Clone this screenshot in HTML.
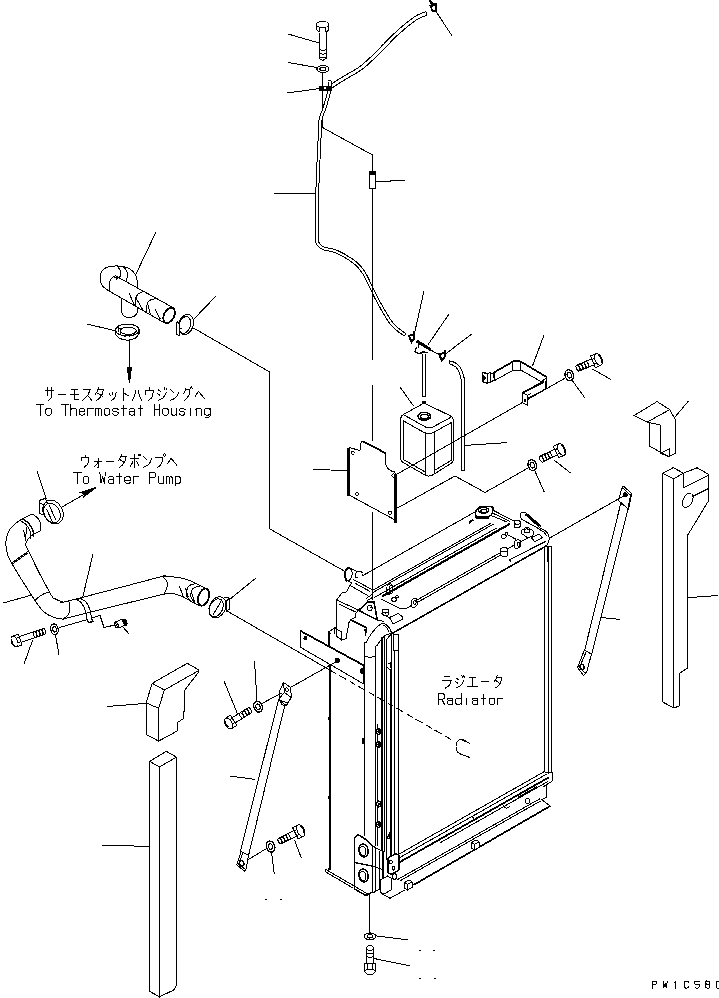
<!DOCTYPE html>
<html><head><meta charset="utf-8"><title>Radiator piping</title>
<style>
html,body{margin:0;padding:0;background:#fff;}
body{width:719px;height:998px;overflow:hidden;font-family:"Liberation Mono",monospace;}
svg{display:block;}
svg text{font-family:"Liberation Mono",monospace;}
</style></head><body>
<svg width="719" height="998" viewBox="0 0 719 998" stroke="#000" fill="none" stroke-width="1" stroke-linecap="butt" stroke-linejoin="miter" shape-rendering="crispEdges">
<rect x="0" y="0" width="719" height="998" fill="#fff" stroke="none"/>
<g transform="translate(322.8 24.5) rotate(90)">
<ellipse cx="0" cy="0" rx="3.1" ry="6.2" fill="#fff"/>
<path d="M0,-6.2 L5.2,-6.2 L8.0,-3.3 M0,6.2 L5.2,6.2 L8.0,3.3 M2.8,-2.8 L8.0,-3.3 M2.8,2.8 L8.0,3.3"/>
<path d="M8.0,-3.3 L34.0,-3.3 L36.0,0 L34.0,3.3 L8.0,3.3"/>
<path d="M32.5,-3.3 Q34.5,0 32.5,3.3"/>
<path d="M28.7,-3.3 Q30.7,0 28.7,3.3"/>
<path d="M24.9,-3.3 Q26.9,0 24.9,3.3"/>
</g>
<path d="M288.0,34.0 L319.0,43.0" stroke-width="1" />
<ellipse cx="323" cy="69" rx="6" ry="3.5" transform="rotate(0 323 69)" stroke-width="1.3" fill="#fff"/>
<ellipse cx="323" cy="69" rx="3.0" ry="1.75" transform="rotate(0 323 69)" stroke-width="1.2" fill="none"/>
<path d="M288.0,62.5 L317.0,67.5" stroke-width="1" />
<path d="M287.0,93.0 L320.0,88.5" stroke-width="1" />
<path d="M322.5,72.0 L322.5,127.5 L372.5,155.0" stroke-width="1" />
<path d="M425.1,12.0 L424.7,12.2 L424.3,12.3 L423.7,12.5 L423.1,12.7 L422.4,12.9 L421.7,13.2 L420.9,13.5 L420.1,13.8 L419.3,14.2 L418.5,14.6 L417.6,15.0 L416.8,15.4 L416.0,15.9 L415.2,16.4 L414.3,17.0 L413.5,17.5 L412.6,18.1 L411.8,18.8 L410.9,19.4 L410.0,20.1 L409.1,20.7 L408.2,21.4 L407.3,22.2 L406.4,22.9 L405.4,23.6 L404.5,24.4 L403.5,25.2 L402.5,26.1 L401.5,26.9 L400.5,27.8 L399.5,28.6 L398.5,29.5 L397.5,30.4 L396.5,31.3 L395.5,32.3 L394.5,33.2 L393.5,34.1 L392.5,35.1 L391.5,36.0 L390.5,37.0 L389.6,38.0 L388.6,39.0 L387.6,40.0 L386.7,41.0 L385.7,42.0 L384.7,43.0 L383.8,44.0 L382.8,44.9 L381.8,45.9 L380.9,46.9 L379.9,47.9 L378.9,48.9 L377.9,49.9 L377.0,50.9 L376.0,51.9 L375.0,52.8 L374.1,53.8 L373.1,54.7 L372.1,55.7 L371.2,56.6 L370.2,57.5 L369.2,58.4 L368.3,59.3 L367.3,60.2 L366.4,61.1 L365.4,61.9 L364.4,62.8 L363.5,63.6 L362.5,64.4 L361.6,65.2 L360.6,65.9 L359.6,66.6 L358.7,67.3 L357.7,68.0 L356.6,68.7 L355.6,69.3 L354.6,69.9 L353.5,70.5 L352.5,71.1 L351.4,71.7 L350.4,72.3 L349.4,72.9 L348.4,73.5 L347.4,74.1 L346.4,74.6 L345.5,75.2 L344.6,75.7 L343.6,76.3 L342.7,76.8 L341.8,77.4 L341.0,77.9 L340.1,78.4 L339.3,78.9 L338.5,79.4 L337.7,79.8 L337.0,80.3 L336.3,80.7 L335.7,81.2 L335.0,81.6 L334.4,82.0 L333.8,82.4 L333.3,82.8 L332.8,83.2 L332.3,83.5 L331.9,83.8 L331.5,84.1 L331.2,84.3 L331.0,84.5 L333.0,87.5 L333.3,87.3 L333.7,87.0 L334.0,86.7 L334.5,86.4 L334.9,86.1 L335.4,85.7 L335.9,85.4 L336.5,85.0 L337.1,84.6 L337.7,84.2 L338.3,83.7 L339.0,83.3 L339.7,82.9 L340.4,82.4 L341.2,82.0 L342.0,81.5 L342.8,81.0 L343.7,80.5 L344.6,79.9 L345.5,79.4 L346.4,78.8 L347.3,78.3 L348.3,77.7 L349.2,77.1 L350.2,76.6 L351.1,76.0 L352.2,75.4 L353.2,74.9 L354.2,74.3 L355.3,73.7 L356.4,73.0 L357.5,72.4 L358.6,71.7 L359.6,71.0 L360.7,70.3 L361.8,69.6 L362.8,68.8 L363.8,68.0 L364.8,67.2 L365.8,66.3 L366.8,65.5 L367.8,64.6 L368.8,63.7 L369.7,62.8 L370.7,61.9 L371.7,61.0 L372.7,60.1 L373.6,59.2 L374.6,58.3 L375.6,57.3 L376.6,56.4 L377.6,55.4 L378.6,54.4 L379.5,53.4 L380.5,52.4 L381.5,51.4 L382.5,50.4 L383.4,49.4 L384.4,48.4 L385.4,47.5 L386.4,46.5 L387.3,45.5 L388.3,44.5 L389.3,43.5 L390.2,42.5 L391.2,41.5 L392.1,40.5 L393.1,39.6 L394.1,38.6 L395.0,37.6 L396.0,36.7 L396.9,35.8 L397.9,34.9 L398.9,34.0 L399.9,33.1 L400.9,32.2 L401.9,31.4 L402.9,30.5 L403.9,29.6 L404.8,28.8 L405.8,28.0 L406.8,27.2 L407.7,26.4 L408.6,25.7 L409.5,25.0 L410.4,24.3 L411.3,23.6 L412.2,22.9 L413.0,22.3 L413.9,21.7 L414.7,21.1 L415.5,20.5 L416.3,20.0 L417.1,19.5 L417.9,19.0 L418.6,18.6 L419.3,18.2 L420.0,17.8 L420.8,17.5 L421.5,17.1 L422.2,16.9 L423.0,16.6 L423.6,16.3 L424.3,16.1 L424.9,15.9 L425.5,15.7 L425.9,15.5 L426.3,15.4 Z" fill="#fff" stroke="none"/>
<path d="M425.1,12.0 L424.7,12.2 L424.3,12.3 L423.7,12.5 L423.1,12.7 L422.4,12.9 L421.7,13.2 L420.9,13.5 L420.1,13.8 L419.3,14.2 L418.5,14.6 L417.6,15.0 L416.8,15.4 L416.0,15.9 L415.2,16.4 L414.3,17.0 L413.5,17.5 L412.6,18.1 L411.8,18.8 L410.9,19.4 L410.0,20.1 L409.1,20.7 L408.2,21.4 L407.3,22.2 L406.4,22.9 L405.4,23.6 L404.5,24.4 L403.5,25.2 L402.5,26.1 L401.5,26.9 L400.5,27.8 L399.5,28.6 L398.5,29.5 L397.5,30.4 L396.5,31.3 L395.5,32.3 L394.5,33.2 L393.5,34.1 L392.5,35.1 L391.5,36.0 L390.5,37.0 L389.6,38.0 L388.6,39.0 L387.6,40.0 L386.7,41.0 L385.7,42.0 L384.7,43.0 L383.8,44.0 L382.8,44.9 L381.8,45.9 L380.9,46.9 L379.9,47.9 L378.9,48.9 L377.9,49.9 L377.0,50.9 L376.0,51.9 L375.0,52.8 L374.1,53.8 L373.1,54.7 L372.1,55.7 L371.2,56.6 L370.2,57.5 L369.2,58.4 L368.3,59.3 L367.3,60.2 L366.4,61.1 L365.4,61.9 L364.4,62.8 L363.5,63.6 L362.5,64.4 L361.6,65.2 L360.6,65.9 L359.6,66.6 L358.7,67.3 L357.7,68.0 L356.6,68.7 L355.6,69.3 L354.6,69.9 L353.5,70.5 L352.5,71.1 L351.4,71.7 L350.4,72.3 L349.4,72.9 L348.4,73.5 L347.4,74.1 L346.4,74.6 L345.5,75.2 L344.6,75.7 L343.6,76.3 L342.7,76.8 L341.8,77.4 L341.0,77.9 L340.1,78.4 L339.3,78.9 L338.5,79.4 L337.7,79.8 L337.0,80.3 L336.3,80.7 L335.7,81.2 L335.0,81.6 L334.4,82.0 L333.8,82.4 L333.3,82.8 L332.8,83.2 L332.3,83.5 L331.9,83.8 L331.5,84.1 L331.2,84.3 L331.0,84.5"/>
<path d="M426.3,15.4 L425.9,15.5 L425.5,15.7 L424.9,15.9 L424.3,16.1 L423.6,16.3 L423.0,16.6 L422.2,16.9 L421.5,17.1 L420.8,17.5 L420.0,17.8 L419.3,18.2 L418.6,18.6 L417.9,19.0 L417.1,19.5 L416.3,20.0 L415.5,20.5 L414.7,21.1 L413.9,21.7 L413.0,22.3 L412.2,22.9 L411.3,23.6 L410.4,24.3 L409.5,25.0 L408.6,25.7 L407.7,26.4 L406.8,27.2 L405.8,28.0 L404.8,28.8 L403.9,29.6 L402.9,30.5 L401.9,31.4 L400.9,32.2 L399.9,33.1 L398.9,34.0 L397.9,34.9 L396.9,35.8 L396.0,36.7 L395.0,37.6 L394.1,38.6 L393.1,39.6 L392.1,40.5 L391.2,41.5 L390.2,42.5 L389.3,43.5 L388.3,44.5 L387.3,45.5 L386.4,46.5 L385.4,47.5 L384.4,48.4 L383.4,49.4 L382.5,50.4 L381.5,51.4 L380.5,52.4 L379.5,53.4 L378.6,54.4 L377.6,55.4 L376.6,56.4 L375.6,57.3 L374.6,58.3 L373.6,59.2 L372.7,60.1 L371.7,61.0 L370.7,61.9 L369.7,62.8 L368.8,63.7 L367.8,64.6 L366.8,65.5 L365.8,66.3 L364.8,67.2 L363.8,68.0 L362.8,68.8 L361.8,69.6 L360.7,70.3 L359.6,71.0 L358.6,71.7 L357.5,72.4 L356.4,73.0 L355.3,73.7 L354.2,74.3 L353.2,74.9 L352.2,75.4 L351.1,76.0 L350.2,76.6 L349.2,77.1 L348.3,77.7 L347.3,78.3 L346.4,78.8 L345.5,79.4 L344.6,79.9 L343.7,80.5 L342.8,81.0 L342.0,81.5 L341.2,82.0 L340.4,82.4 L339.7,82.9 L339.0,83.3 L338.3,83.7 L337.7,84.2 L337.1,84.6 L336.5,85.0 L335.9,85.4 L335.4,85.7 L334.9,86.1 L334.5,86.4 L334.0,86.7 L333.7,87.0 L333.3,87.3 L333.0,87.5"/>
<path d="M425.1,12.0 C426.4,11.5 427.7,14.9 426.3,15.4"/>
<path d="M331.0,84.5 C329.8,85.4 331.9,88.3 333.0,87.5"/>
<path d="M328.4,81.5 L328.4,81.9 L328.4,82.4 L328.4,82.9 L328.4,83.4 L328.5,84.0 L328.5,84.7 L328.5,85.4 L328.5,86.1 L328.5,86.9 L328.4,87.8 L328.3,88.7 L328.1,89.7 L327.8,90.9 L327.5,92.2 L327.2,93.6 L326.7,95.1 L326.3,96.7 L325.8,98.4 L325.4,100.0 L324.9,101.7 L324.4,103.3 L323.9,104.8 L323.5,106.3 L323.1,107.6 L322.7,108.7 L322.4,109.7 L322.0,110.7 L321.6,111.6 L321.3,112.5 L320.9,113.3 L320.6,114.2 L320.2,115.2 L319.9,116.2 L319.6,117.3 L319.3,118.5 L319.1,119.8 L318.9,121.1 L318.7,122.4 L318.6,123.6 L318.5,124.8 L318.5,126.1 L318.4,127.5 L318.4,129.0 L318.4,130.6 L318.3,132.5 L318.3,134.7 L318.2,137.1 L318.1,139.9 L317.9,143.2 L317.7,146.8 L317.5,150.9 L317.3,155.2 L317.1,159.7 L316.9,164.4 L316.7,169.2 L316.5,174.0 L316.3,178.8 L316.1,183.4 L316.0,187.8 L315.9,192.0 L315.8,196.0 L315.7,200.2 L315.7,204.4 L315.6,208.6 L315.6,212.8 L315.6,216.8 L315.6,220.7 L315.7,224.4 L315.7,227.8 L315.7,230.9 L315.7,233.7 L315.8,236.0 L315.7,237.9 L315.7,239.3 L315.7,240.3 L315.7,241.1 L315.6,241.5 L315.6,241.9 L315.6,242.2 L315.8,242.9 L316.0,243.2 L316.1,243.2 L316.1,243.3 L316.3,243.7 L316.6,244.2 L316.9,244.7 L317.2,245.3 L317.6,245.8 L318.0,246.3 L318.5,246.8 L319.0,247.2 L319.6,247.7 L320.2,248.1 L320.9,248.5 L321.6,248.9 L322.4,249.3 L323.3,249.7 L324.3,250.0 L325.4,250.3 L326.5,250.6 L327.6,250.8 L328.7,251.0 L329.9,251.3 L331.1,251.5 L332.2,251.8 L333.3,252.1 L334.4,252.5 L335.5,252.8 L336.5,253.3 L337.6,253.8 L338.7,254.3 L339.8,254.9 L340.9,255.4 L342.1,256.1 L343.2,256.7 L344.2,257.3 L345.3,257.9 L346.3,258.5 L347.3,259.1 L348.2,259.7 L349.1,260.3 L350.0,260.9 L350.8,261.4 L351.5,262.0 L352.3,262.5 L353.0,263.1 L353.7,263.6 L354.4,264.2 L355.1,264.7 L355.7,265.3 L356.3,265.9 L357.0,266.5 L357.6,267.1 L358.2,267.8 L358.7,268.4 L359.3,269.1 L359.8,269.7 L360.3,270.4 L360.8,271.1 L361.3,271.8 L361.8,272.5 L362.3,273.2 L362.8,274.0 L363.3,274.8 L363.7,275.5 L364.2,276.3 L364.6,277.2 L365.0,278.0 L365.5,278.8 L365.9,279.7 L366.3,280.6 L366.7,281.6 L367.2,282.5 L367.7,283.5 L368.2,284.6 L368.7,285.6 L369.2,286.7 L369.8,287.9 L370.4,289.0 L371.0,290.2 L371.6,291.5 L372.2,292.7 L372.8,294.0 L373.4,295.3 L374.1,296.6 L374.8,298.0 L375.5,299.3 L376.2,300.7 L377.0,302.1 L377.8,303.6 L378.6,305.1 L379.5,306.6 L380.4,308.2 L381.2,309.8 L382.1,311.4 L383.0,312.9 L383.9,314.4 L384.7,315.8 L385.5,317.1 L386.3,318.3 L387.0,319.4 L387.7,320.4 L388.3,321.3 L388.9,322.2 L389.5,323.0 L390.1,323.8 L390.7,324.5 L391.3,325.2 L392.0,325.9 L392.6,326.6 L393.3,327.3 L394.0,328.0 L394.8,328.8 L395.6,329.5 L396.5,330.3 L397.5,331.1 L398.4,331.8 L399.3,332.5 L400.3,333.2 L401.1,333.8 L401.9,334.4 L402.6,334.9 L403.2,335.3 L403.6,335.7 L405.4,333.3 L404.9,333.0 L404.3,332.5 L403.6,332.0 L402.8,331.5 L402.0,330.8 L401.1,330.2 L400.2,329.5 L399.3,328.8 L398.4,328.1 L397.5,327.4 L396.7,326.7 L396.0,326.0 L395.4,325.3 L394.7,324.6 L394.1,324.0 L393.5,323.3 L393.0,322.7 L392.4,322.0 L391.9,321.3 L391.3,320.5 L390.7,319.7 L390.1,318.8 L389.4,317.8 L388.7,316.7 L388.0,315.5 L387.2,314.3 L386.4,312.9 L385.5,311.4 L384.6,309.9 L383.8,308.4 L382.9,306.8 L382.0,305.2 L381.2,303.7 L380.3,302.2 L379.5,300.7 L378.8,299.3 L378.1,298.0 L377.4,296.6 L376.7,295.3 L376.0,294.0 L375.4,292.7 L374.8,291.5 L374.2,290.2 L373.6,289.0 L373.0,287.8 L372.4,286.6 L371.8,285.5 L371.3,284.4 L370.8,283.3 L370.3,282.3 L369.8,281.3 L369.4,280.3 L368.9,279.4 L368.5,278.5 L368.1,277.6 L367.6,276.7 L367.2,275.8 L366.7,274.9 L366.2,274.1 L365.7,273.2 L365.2,272.4 L364.7,271.6 L364.2,270.9 L363.7,270.1 L363.2,269.4 L362.6,268.6 L362.1,267.9 L361.5,267.2 L360.9,266.5 L360.3,265.8 L359.7,265.1 L359.0,264.5 L358.4,263.8 L357.7,263.2 L357.0,262.6 L356.3,261.9 L355.5,261.3 L354.8,260.8 L354.0,260.2 L353.2,259.6 L352.4,259.0 L351.6,258.4 L350.7,257.9 L349.8,257.3 L348.8,256.7 L347.8,256.1 L346.8,255.4 L345.7,254.8 L344.6,254.1 L343.4,253.5 L342.3,252.9 L341.1,252.3 L340.0,251.7 L338.8,251.1 L337.7,250.6 L336.5,250.2 L335.4,249.7 L334.2,249.3 L332.9,249.0 L331.7,248.7 L330.5,248.5 L329.3,248.2 L328.2,248.0 L327.1,247.7 L326.1,247.5 L325.1,247.2 L324.3,247.0 L323.6,246.7 L322.9,246.4 L322.3,246.0 L321.8,245.7 L321.3,245.4 L320.9,245.0 L320.5,244.7 L320.2,244.3 L319.9,244.0 L319.6,243.6 L319.4,243.2 L319.1,242.8 L318.9,242.3 L318.6,241.9 L318.4,241.5 L318.2,241.3 L318.4,241.5 L318.5,242.0 L318.5,242.0 L318.5,241.7 L318.6,241.2 L318.6,240.5 L318.6,239.4 L318.6,237.9 L318.6,236.0 L318.6,233.6 L318.6,230.9 L318.6,227.8 L318.6,224.4 L318.5,220.7 L318.5,216.8 L318.5,212.8 L318.5,208.6 L318.6,204.4 L318.6,200.2 L318.7,196.1 L318.7,192.0 L318.9,187.9 L319.0,183.5 L319.2,178.9 L319.4,174.1 L319.6,169.3 L319.8,164.6 L320.0,159.9 L320.2,155.3 L320.4,151.0 L320.6,147.0 L320.8,143.3 L320.9,140.1 L321.1,137.2 L321.2,134.8 L321.2,132.6 L321.3,130.7 L321.3,129.0 L321.3,127.5 L321.4,126.2 L321.4,125.0 L321.5,123.8 L321.6,122.6 L321.8,121.5 L321.9,120.2 L322.1,119.0 L322.4,118.0 L322.7,117.0 L322.9,116.1 L323.3,115.3 L323.6,114.4 L323.9,113.6 L324.3,112.7 L324.7,111.8 L325.1,110.8 L325.5,109.6 L325.9,108.4 L326.3,107.1 L326.7,105.7 L327.2,104.1 L327.7,102.5 L328.1,100.8 L328.6,99.2 L329.1,97.5 L329.5,95.9 L330.0,94.3 L330.3,92.9 L330.7,91.5 L330.9,90.3 L331.1,89.2 L331.3,88.1 L331.4,87.1 L331.4,86.2 L331.4,85.4 L331.4,84.6 L331.4,83.9 L331.3,83.3 L331.3,82.7 L331.3,82.2 L331.2,81.8 L331.2,81.5 Z" fill="#fff" stroke="none"/>
<path d="M328.4,81.5 L328.4,81.9 L328.4,82.4 L328.4,82.9 L328.4,83.4 L328.5,84.0 L328.5,84.7 L328.5,85.4 L328.5,86.1 L328.5,86.9 L328.4,87.8 L328.3,88.7 L328.1,89.7 L327.8,90.9 L327.5,92.2 L327.2,93.6 L326.7,95.1 L326.3,96.7 L325.8,98.4 L325.4,100.0 L324.9,101.7 L324.4,103.3 L323.9,104.8 L323.5,106.3 L323.1,107.6 L322.7,108.7 L322.4,109.7 L322.0,110.7 L321.6,111.6 L321.3,112.5 L320.9,113.3 L320.6,114.2 L320.2,115.2 L319.9,116.2 L319.6,117.3 L319.3,118.5 L319.1,119.8 L318.9,121.1 L318.7,122.4 L318.6,123.6 L318.5,124.8 L318.5,126.1 L318.4,127.5 L318.4,129.0 L318.4,130.6 L318.3,132.5 L318.3,134.7 L318.2,137.1 L318.1,139.9 L317.9,143.2 L317.7,146.8 L317.5,150.9 L317.3,155.2 L317.1,159.7 L316.9,164.4 L316.7,169.2 L316.5,174.0 L316.3,178.8 L316.1,183.4 L316.0,187.8 L315.9,192.0 L315.8,196.0 L315.7,200.2 L315.7,204.4 L315.6,208.6 L315.6,212.8 L315.6,216.8 L315.6,220.7 L315.7,224.4 L315.7,227.8 L315.7,230.9 L315.7,233.7 L315.8,236.0 L315.7,237.9 L315.7,239.3 L315.7,240.3 L315.7,241.1 L315.6,241.5 L315.6,241.9 L315.6,242.2 L315.8,242.9 L316.0,243.2 L316.1,243.2 L316.1,243.3 L316.3,243.7 L316.6,244.2 L316.9,244.7 L317.2,245.3 L317.6,245.8 L318.0,246.3 L318.5,246.8 L319.0,247.2 L319.6,247.7 L320.2,248.1 L320.9,248.5 L321.6,248.9 L322.4,249.3 L323.3,249.7 L324.3,250.0 L325.4,250.3 L326.5,250.6 L327.6,250.8 L328.7,251.0 L329.9,251.3 L331.1,251.5 L332.2,251.8 L333.3,252.1 L334.4,252.5 L335.5,252.8 L336.5,253.3 L337.6,253.8 L338.7,254.3 L339.8,254.9 L340.9,255.4 L342.1,256.1 L343.2,256.7 L344.2,257.3 L345.3,257.9 L346.3,258.5 L347.3,259.1 L348.2,259.7 L349.1,260.3 L350.0,260.9 L350.8,261.4 L351.5,262.0 L352.3,262.5 L353.0,263.1 L353.7,263.6 L354.4,264.2 L355.1,264.7 L355.7,265.3 L356.3,265.9 L357.0,266.5 L357.6,267.1 L358.2,267.8 L358.7,268.4 L359.3,269.1 L359.8,269.7 L360.3,270.4 L360.8,271.1 L361.3,271.8 L361.8,272.5 L362.3,273.2 L362.8,274.0 L363.3,274.8 L363.7,275.5 L364.2,276.3 L364.6,277.2 L365.0,278.0 L365.5,278.8 L365.9,279.7 L366.3,280.6 L366.7,281.6 L367.2,282.5 L367.7,283.5 L368.2,284.6 L368.7,285.6 L369.2,286.7 L369.8,287.9 L370.4,289.0 L371.0,290.2 L371.6,291.5 L372.2,292.7 L372.8,294.0 L373.4,295.3 L374.1,296.6 L374.8,298.0 L375.5,299.3 L376.2,300.7 L377.0,302.1 L377.8,303.6 L378.6,305.1 L379.5,306.6 L380.4,308.2 L381.2,309.8 L382.1,311.4 L383.0,312.9 L383.9,314.4 L384.7,315.8 L385.5,317.1 L386.3,318.3 L387.0,319.4 L387.7,320.4 L388.3,321.3 L388.9,322.2 L389.5,323.0 L390.1,323.8 L390.7,324.5 L391.3,325.2 L392.0,325.9 L392.6,326.6 L393.3,327.3 L394.0,328.0 L394.8,328.8 L395.6,329.5 L396.5,330.3 L397.5,331.1 L398.4,331.8 L399.3,332.5 L400.3,333.2 L401.1,333.8 L401.9,334.4 L402.6,334.9 L403.2,335.3 L403.6,335.7"/>
<path d="M331.2,81.5 L331.2,81.8 L331.3,82.2 L331.3,82.7 L331.3,83.3 L331.4,83.9 L331.4,84.6 L331.4,85.4 L331.4,86.2 L331.4,87.1 L331.3,88.1 L331.1,89.2 L330.9,90.3 L330.7,91.5 L330.3,92.9 L330.0,94.3 L329.5,95.9 L329.1,97.5 L328.6,99.2 L328.1,100.8 L327.7,102.5 L327.2,104.1 L326.7,105.7 L326.3,107.1 L325.9,108.4 L325.5,109.6 L325.1,110.8 L324.7,111.8 L324.3,112.7 L323.9,113.6 L323.6,114.4 L323.3,115.3 L322.9,116.1 L322.7,117.0 L322.4,118.0 L322.1,119.0 L321.9,120.2 L321.8,121.5 L321.6,122.6 L321.5,123.8 L321.4,125.0 L321.4,126.2 L321.3,127.5 L321.3,129.0 L321.3,130.7 L321.2,132.6 L321.2,134.8 L321.1,137.2 L320.9,140.1 L320.8,143.3 L320.6,147.0 L320.4,151.0 L320.2,155.3 L320.0,159.9 L319.8,164.6 L319.6,169.3 L319.4,174.1 L319.2,178.9 L319.0,183.5 L318.9,187.9 L318.7,192.0 L318.7,196.1 L318.6,200.2 L318.6,204.4 L318.5,208.6 L318.5,212.8 L318.5,216.8 L318.5,220.7 L318.6,224.4 L318.6,227.8 L318.6,230.9 L318.6,233.6 L318.6,236.0 L318.6,237.9 L318.6,239.4 L318.6,240.5 L318.6,241.2 L318.5,241.7 L318.5,242.0 L318.5,242.0 L318.4,241.5 L318.2,241.3 L318.4,241.5 L318.6,241.9 L318.9,242.3 L319.1,242.8 L319.4,243.2 L319.6,243.6 L319.9,244.0 L320.2,244.3 L320.5,244.7 L320.9,245.0 L321.3,245.4 L321.8,245.7 L322.3,246.0 L322.9,246.4 L323.6,246.7 L324.3,247.0 L325.1,247.2 L326.1,247.5 L327.1,247.7 L328.2,248.0 L329.3,248.2 L330.5,248.5 L331.7,248.7 L332.9,249.0 L334.2,249.3 L335.4,249.7 L336.5,250.2 L337.7,250.6 L338.8,251.1 L340.0,251.7 L341.1,252.3 L342.3,252.9 L343.4,253.5 L344.6,254.1 L345.7,254.8 L346.8,255.4 L347.8,256.1 L348.8,256.7 L349.8,257.3 L350.7,257.9 L351.6,258.4 L352.4,259.0 L353.2,259.6 L354.0,260.2 L354.8,260.8 L355.5,261.3 L356.3,261.9 L357.0,262.6 L357.7,263.2 L358.4,263.8 L359.0,264.5 L359.7,265.1 L360.3,265.8 L360.9,266.5 L361.5,267.2 L362.1,267.9 L362.6,268.6 L363.2,269.4 L363.7,270.1 L364.2,270.9 L364.7,271.6 L365.2,272.4 L365.7,273.2 L366.2,274.1 L366.7,274.9 L367.2,275.8 L367.6,276.7 L368.1,277.6 L368.5,278.5 L368.9,279.4 L369.4,280.3 L369.8,281.3 L370.3,282.3 L370.8,283.3 L371.3,284.4 L371.8,285.5 L372.4,286.6 L373.0,287.8 L373.6,289.0 L374.2,290.2 L374.8,291.5 L375.4,292.7 L376.0,294.0 L376.7,295.3 L377.4,296.6 L378.1,298.0 L378.8,299.3 L379.5,300.7 L380.3,302.2 L381.2,303.7 L382.0,305.2 L382.9,306.8 L383.8,308.4 L384.6,309.9 L385.5,311.4 L386.4,312.9 L387.2,314.3 L388.0,315.5 L388.7,316.7 L389.4,317.8 L390.1,318.8 L390.7,319.7 L391.3,320.5 L391.9,321.3 L392.4,322.0 L393.0,322.7 L393.5,323.3 L394.1,324.0 L394.7,324.6 L395.4,325.3 L396.0,326.0 L396.7,326.7 L397.5,327.4 L398.4,328.1 L399.3,328.8 L400.2,329.5 L401.1,330.2 L402.0,330.8 L402.8,331.5 L403.6,332.0 L404.3,332.5 L404.9,333.0 L405.4,333.3"/>
<path d="M328.4,81.5 C328.3,80.3 331.2,80.3 331.2,81.5"/>
<path d="M403.6,335.7 C404.5,336.4 406.3,334.1 405.4,333.3"/>
<rect x="319.5" y="86.2" width="11.8" height="4" fill="#000"/>
<rect x="323.5" y="87.4" width="2.5" height="1.6" fill="#fff" stroke="none"/>
<path d="M274.0,194.0 L315.5,193.7" stroke-width="1" />
<path d="M372.5,155.0 L372.5,171.0" stroke-width="1" />
<rect x="369.5" y="171.5" width="6" height="16.5" fill="#fff"/>
<rect x="369.5" y="171.5" width="6" height="2.6" fill="#000"/>
<path d="M375.5,181.3 L390.0,181.3 L390.0,180.5 L404.7,180.5" stroke-width="1" />
<path d="M372.5,188.0 L372.5,360.0" stroke-width="1" />
<path d="M372.5,385.0 L372.5,441.0" stroke-width="1" />
<path d="M372.5,512.0 L372.5,600.0" stroke-width="1" />
<path d="M436.3,2.5 L436.3,11.5 L432.6,11 L430.4,6 L436.3,5" stroke-width="1.8" />
<path d="M429.8,0.3 L431.8,3.5 L434.5,4.6" stroke-width="2.4" />
<path d="M436.0,11.5 L452.5,36.5" stroke-width="1" />
<path d="M414.4,331.1 L414.4,338.6 L411.6,341.9 L409.0,335.7 L414.4,334.3" stroke-width="2" />
<path d="M424.0,291.0 L415.0,331.0" stroke-width="1" />
<path d="M444.5,349.6 L444.5,357.1 L441.7,360.4 L439.1,354.2 L444.5,352.8" stroke-width="2" />
<path d="M471.7,334.0 L445.5,354.0" stroke-width="1" />
<path d="M416.7,341.0 L430.5,349.6" stroke-width="3" />
<path d="M416.5,347.5 L415,351.5 L418,353.5 L422,353 M421.5,351.8 L427.5,352.6" stroke-width="1.4" />
<path d="M419.0,343.5 L418.2,348.2" stroke-width="1" />
<path d="M449.0,314.0 L427.8,345.0" stroke-width="1" />
<path d="M430.5,350.0 L439.0,354.5" stroke-width="1" />
<path d="M422.2,353.5 V396.7 H425.6 V353.5" fill="#fff"/>
<path d="M449.1,363.4 L449.3,363.5 L449.5,363.6 L449.8,363.8 L450.1,363.9 L450.4,364.1 L450.7,364.2 L451.1,364.4 L451.4,364.5 L451.8,364.7 L452.1,364.9 L452.4,365.0 L452.7,365.2 L453.0,365.4 L453.4,365.5 L453.7,365.7 L454.0,365.9 L454.2,366.0 L454.5,366.2 L454.8,366.3 L455.0,366.5 L455.3,366.6 L455.5,366.8 L455.7,367.0 L455.9,367.1 L456.1,367.3 L456.3,367.6 L456.5,367.8 L456.7,368.1 L456.9,368.3 L457.1,368.6 L457.3,368.9 L457.4,369.2 L457.6,369.6 L457.8,369.9 L458.0,370.2 L458.2,370.5 L458.4,370.9 L458.5,371.2 L458.7,371.6 L458.8,371.9 L459.0,372.3 L459.1,372.6 L459.3,373.0 L459.4,373.4 L459.6,373.8 L459.7,374.2 L459.8,374.6 L460.0,375.0 L460.1,375.4 L460.2,375.8 L460.4,376.2 L460.5,376.6 L460.6,377.0 L460.7,377.3 L460.8,377.7 L460.9,378.1 L461.0,378.6 L461.1,379.0 L461.1,379.6 L461.2,380.1 L461.3,380.7 L461.3,381.3 L461.3,381.8 L461.3,382.3 L461.3,382.8 L461.3,383.5 L461.3,384.2 L461.3,385.0 L461.3,386.0 L461.3,387.1 L461.3,388.5 L461.3,390.0 L461.3,391.7 L461.3,393.6 L461.3,395.6 L461.3,397.8 L461.3,400.0 L461.3,402.5 L461.3,405.0 L461.3,407.7 L461.3,410.6 L461.3,413.6 L461.3,416.7 L461.3,420.0 L461.3,423.7 L461.3,427.8 L461.3,432.4 L461.3,437.2 L461.3,442.1 L461.3,447.1 L461.3,452.0 L461.3,456.6 L461.3,460.9 L461.3,464.8 L461.3,468.0 L461.3,470.5 L464.5,470.5 L464.5,468.0 L464.5,464.8 L464.5,460.9 L464.5,456.6 L464.5,452.0 L464.5,447.1 L464.5,442.1 L464.5,437.2 L464.5,432.4 L464.5,427.8 L464.5,423.7 L464.5,420.0 L464.5,416.7 L464.5,413.6 L464.5,410.6 L464.5,407.7 L464.5,405.0 L464.5,402.5 L464.5,400.0 L464.5,397.8 L464.5,395.6 L464.5,393.6 L464.5,391.7 L464.5,390.0 L464.5,388.5 L464.5,387.1 L464.5,386.0 L464.5,385.0 L464.5,384.2 L464.5,383.5 L464.5,382.8 L464.5,382.2 L464.5,381.7 L464.5,381.1 L464.4,380.5 L464.4,379.9 L464.3,379.2 L464.2,378.6 L464.1,378.0 L464.0,377.5 L463.9,377.0 L463.8,376.5 L463.7,376.1 L463.5,375.6 L463.4,375.2 L463.3,374.8 L463.2,374.4 L463.0,374.0 L462.9,373.6 L462.7,373.1 L462.6,372.7 L462.4,372.3 L462.3,371.9 L462.1,371.4 L461.9,371.0 L461.8,370.6 L461.6,370.2 L461.4,369.8 L461.2,369.4 L461.0,369.1 L460.8,368.7 L460.6,368.3 L460.4,367.9 L460.2,367.6 L460.0,367.2 L459.7,366.9 L459.5,366.5 L459.2,366.2 L459.0,365.8 L458.7,365.5 L458.4,365.2 L458.1,364.9 L457.8,364.6 L457.5,364.3 L457.1,364.0 L456.8,363.8 L456.4,363.6 L456.1,363.4 L455.8,363.2 L455.5,363.0 L455.2,362.9 L454.9,362.7 L454.6,362.6 L454.3,362.4 L453.9,362.2 L453.6,362.0 L453.2,361.8 L452.8,361.7 L452.5,361.5 L452.1,361.3 L451.8,361.2 L451.4,361.0 L451.1,360.9 L450.9,360.7 L450.7,360.6 L450.5,360.6 Z" fill="#fff" stroke="none"/>
<path d="M449.1,363.4 L449.3,363.5 L449.5,363.6 L449.8,363.8 L450.1,363.9 L450.4,364.1 L450.7,364.2 L451.1,364.4 L451.4,364.5 L451.8,364.7 L452.1,364.9 L452.4,365.0 L452.7,365.2 L453.0,365.4 L453.4,365.5 L453.7,365.7 L454.0,365.9 L454.2,366.0 L454.5,366.2 L454.8,366.3 L455.0,366.5 L455.3,366.6 L455.5,366.8 L455.7,367.0 L455.9,367.1 L456.1,367.3 L456.3,367.6 L456.5,367.8 L456.7,368.1 L456.9,368.3 L457.1,368.6 L457.3,368.9 L457.4,369.2 L457.6,369.6 L457.8,369.9 L458.0,370.2 L458.2,370.5 L458.4,370.9 L458.5,371.2 L458.7,371.6 L458.8,371.9 L459.0,372.3 L459.1,372.6 L459.3,373.0 L459.4,373.4 L459.6,373.8 L459.7,374.2 L459.8,374.6 L460.0,375.0 L460.1,375.4 L460.2,375.8 L460.4,376.2 L460.5,376.6 L460.6,377.0 L460.7,377.3 L460.8,377.7 L460.9,378.1 L461.0,378.6 L461.1,379.0 L461.1,379.6 L461.2,380.1 L461.3,380.7 L461.3,381.3 L461.3,381.8 L461.3,382.3 L461.3,382.8 L461.3,383.5 L461.3,384.2 L461.3,385.0 L461.3,386.0 L461.3,387.1 L461.3,388.5 L461.3,390.0 L461.3,391.7 L461.3,393.6 L461.3,395.6 L461.3,397.8 L461.3,400.0 L461.3,402.5 L461.3,405.0 L461.3,407.7 L461.3,410.6 L461.3,413.6 L461.3,416.7 L461.3,420.0 L461.3,423.7 L461.3,427.8 L461.3,432.4 L461.3,437.2 L461.3,442.1 L461.3,447.1 L461.3,452.0 L461.3,456.6 L461.3,460.9 L461.3,464.8 L461.3,468.0 L461.3,470.5"/>
<path d="M450.5,360.6 L450.7,360.6 L450.9,360.7 L451.1,360.9 L451.4,361.0 L451.8,361.2 L452.1,361.3 L452.5,361.5 L452.8,361.7 L453.2,361.8 L453.6,362.0 L453.9,362.2 L454.3,362.4 L454.6,362.6 L454.9,362.7 L455.2,362.9 L455.5,363.0 L455.8,363.2 L456.1,363.4 L456.4,363.6 L456.8,363.8 L457.1,364.0 L457.5,364.3 L457.8,364.6 L458.1,364.9 L458.4,365.2 L458.7,365.5 L459.0,365.8 L459.2,366.2 L459.5,366.5 L459.7,366.9 L460.0,367.2 L460.2,367.6 L460.4,367.9 L460.6,368.3 L460.8,368.7 L461.0,369.1 L461.2,369.4 L461.4,369.8 L461.6,370.2 L461.8,370.6 L461.9,371.0 L462.1,371.4 L462.3,371.9 L462.4,372.3 L462.6,372.7 L462.7,373.1 L462.9,373.6 L463.0,374.0 L463.2,374.4 L463.3,374.8 L463.4,375.2 L463.5,375.6 L463.7,376.1 L463.8,376.5 L463.9,377.0 L464.0,377.5 L464.1,378.0 L464.2,378.6 L464.3,379.2 L464.4,379.9 L464.4,380.5 L464.5,381.1 L464.5,381.7 L464.5,382.2 L464.5,382.8 L464.5,383.5 L464.5,384.2 L464.5,385.0 L464.5,386.0 L464.5,387.1 L464.5,388.5 L464.5,390.0 L464.5,391.7 L464.5,393.6 L464.5,395.6 L464.5,397.8 L464.5,400.0 L464.5,402.5 L464.5,405.0 L464.5,407.7 L464.5,410.6 L464.5,413.6 L464.5,416.7 L464.5,420.0 L464.5,423.7 L464.5,427.8 L464.5,432.4 L464.5,437.2 L464.5,442.1 L464.5,447.1 L464.5,452.0 L464.5,456.6 L464.5,460.9 L464.5,464.8 L464.5,468.0 L464.5,470.5"/>
<path d="M449.1,363.4 L450.5,360.6"/>
<path d="M461.3,470.5 L464.5,470.5"/>
<path d="M461.2,470.6 L464.8,470.6" stroke-width="1" />
<path d="M449.4,360.2 L449.6,364.0" stroke-width="1" />
<path d="M465.0,445.4 L507.0,442.6" stroke-width="1" />
<path d="M349,447.5 L360,450.5 L361.2,442 L362.3,441 L385.3,453 L386,465 Q387.5,470.5 394.5,472 L396,474 L396,520.5 L349,495 Z" stroke-width="1" fill="#fff"/>
<path d="M348.3,447.5 L348.3,495.5" stroke-width="2.2" />
<path d="M362.3,441.0 L385.3,453.0" stroke-width="1.8" />
<path d="M395.9,473.5 L395.9,522.5" stroke-width="3" />
<ellipse cx="352.8" cy="452.8" rx="1.4" ry="1.7" transform="rotate(0 352.8 452.8)" stroke-width="1" fill="none"/>
<ellipse cx="357" cy="494" rx="1.4" ry="1.7" transform="rotate(0 357 494)" stroke-width="1" fill="none"/>
<ellipse cx="390" cy="512.6" rx="1.4" ry="1.7" transform="rotate(0 390 512.6)" stroke-width="1" fill="none"/>
<ellipse cx="393.2" cy="475.5" rx="1.4" ry="1.7" transform="rotate(0 393.2 475.5)" stroke-width="1" fill="none"/>
<path d="M313.0,469.5 L347.3,470.5" stroke-width="1" />
<path d="M424.1,403 L450.3,415.8 Q453.5,417.4 453.5,421 L453.7,458.5 Q453.7,461.8 451,463.4 L433.5,474.5 Q429,477.6 424.5,474.8 L403.3,462.6 Q400.6,461 400.6,457.8 L400.6,419.5 Q400.6,416 403.6,414.4 Z" stroke-width="1" fill="#fff"/>
<path d="M402.6,420.4 L423.5,432.2 Q429.5,435 435,431.6 L452.3,422" stroke-width="1" />
<path d="M404.6,415.3 L426,427.3 Q429.5,428.8 433,427 L451,417.2" stroke-width="1" />
<path d="M425.0,433.2 L425.0,474.8" stroke-width="1" />
<path d="M434.0,432.3 L434.0,474.0" stroke-width="1" />
<path d="M403.4,421.0 L403.4,459.5" stroke-width="1" />
<path d="M403.4,459.5 L425.0,471.8" stroke-width="1" />
<path d="M434.0,470.8 L452.0,459.8" stroke-width="1" />
<path d="M451.6,422.5 L451.6,459.5" stroke-width="1" />
<ellipse cx="424.2" cy="416.2" rx="6.2" ry="3.9" transform="rotate(0 424.2 416.2)" stroke-width="1.4" fill="none"/>
<ellipse cx="424.4" cy="416.6" rx="3.8" ry="2.3" transform="rotate(0 424.4 416.6)" stroke-width="1.3" fill="none"/>
<path d="M418,416.2 V418 Q424.2,423.2 430.4,418 V416.2" stroke-width="1" />
<rect x="422.3" y="401.4" width="3.8" height="2" fill="#000" stroke="none"/>
<path d="M400.0,387.0 L413.5,406.0" stroke-width="1" />
<path d="M395.8,474.8 L566.0,377.6" stroke-width="1" />
<path d="M397.5,508.0 L455.0,476.0 L485.0,492.5 L529.0,467.5" stroke-width="1" />
<path d="M482.2,372.2 L487.2,373.6 L487.2,383.2 L482.2,381.6 Z" stroke-width="1.3" fill="#fff"/>
<path d="M487.2,373.6 L490.2,372.6 L490.2,382.2 L487.2,383.2 Z" stroke-width="1" fill="#fff"/>
<path d="M484,376 L485.6,377.6 L484,379.2 Z" stroke-width="1.2" fill="#000"/>
<path d="M490.2,374.0 L493.3,373.0" stroke-width="1" />
<path d="M490.2,381.5 L494.4,380.6" stroke-width="1" />
<path d="M493.3,372.8 L512.8,361.7 L512.4,370.6 L494.4,380.6 Z" stroke-width="1" fill="#fff"/>
<path d="M493.3,372.8 L512.8,361.7" stroke-width="1.7" />
<path d="M494.6,373.0 L494.6,380.4" stroke-width="1" />
<path d="M512.8,361.7 Q516.7,359.6 521,361.7 L520.8,370 L512.4,370.6 Z" stroke-width="1" fill="#fff"/>
<path d="M512.8,361.7 Q516.7,359.6 521,361.7" stroke-width="1.7" />
<path d="M521.0,361.7 L546.7,377.2 L541.7,381.9 L520.8,370.0 Z" stroke-width="1" fill="#fff"/>
<path d="M521.0,361.7 L546.7,377.2" stroke-width="1.7" />
<path d="M541.7,381.9 L546.7,377.2 L546.7,388.4 L527.6,398.4 L527.6,405.2 L522.5,402.9 L522.5,392.8 Z" stroke-width="1" fill="#fff"/>
<path d="M543.9,382.2 L522.6,392.8" stroke-width="1.7" />
<path d="M545.2,380.5 L545.2,388.9" stroke-width="1" />
<path d="M522.5,392.8 L527.6,395.2 L527.6,398.4" stroke-width="1" />
<path d="M527.6,395.2 L531.0,393.4" stroke-width="1" />
<ellipse cx="525" cy="400.4" rx="0.9" ry="1.6" transform="rotate(0 525 400.4)" stroke-width="1" fill="#000"/>
<path d="M544.0,335.0 L532.5,366.0" stroke-width="1" />
<ellipse cx="569.3" cy="375.3" rx="4.2" ry="5.6" transform="rotate(-20 569.3 375.3)" stroke-width="1.3" fill="#fff"/>
<ellipse cx="569.3" cy="375.3" rx="2.1" ry="2.8" transform="rotate(-20 569.3 375.3)" stroke-width="1.2" fill="none"/>
<path d="M571.5,379.5 L585.0,398.0" stroke-width="1" />
<g transform="translate(598.5 359.5) rotate(157.3)">
<path d="M0,-6.3 L6.0,-6.3 L6.0,6.3 L0,6.3" fill="#fff"/>
<ellipse cx="0" cy="0" rx="3.5" ry="6.3" fill="#fff"/>
<path d="M-1.3,-3.9 A2.3,4.2 0 0 0 -1.3,3.9"/>
<path d="M3.1,-2.6 L6.0,-2.6 M3.1,2.6 L6.0,2.6"/>
<path d="M6.0,-3.2 L22.3,-3.2 M6.0,3.2 L22.3,3.2"/>
<ellipse cx="22.3" cy="0" rx="1.5" ry="3.2"/>
<ellipse cx="19.1" cy="0" rx="1.5" ry="3.2"/>
<ellipse cx="15.9" cy="0" rx="1.5" ry="3.2"/>
<ellipse cx="12.7" cy="0" rx="1.5" ry="3.2"/>
</g>
<path d="M592.5,369.0 L611.0,379.5" stroke-width="1" />
<ellipse cx="532.3" cy="465.2" rx="4.2" ry="5.6" transform="rotate(-20 532.3 465.2)" stroke-width="1.3" fill="#fff"/>
<ellipse cx="532.3" cy="465.2" rx="2.1" ry="2.8" transform="rotate(-20 532.3 465.2)" stroke-width="1.2" fill="none"/>
<path d="M534.5,470.0 L544.5,492.5" stroke-width="1" />
<g transform="translate(561.5 449.5) rotate(154.5)">
<path d="M0,-6.3 L6.0,-6.3 L6.0,6.3 L0,6.3" fill="#fff"/>
<ellipse cx="0" cy="0" rx="3.5" ry="6.3" fill="#fff"/>
<path d="M-1.3,-3.9 A2.3,4.2 0 0 0 -1.3,3.9"/>
<path d="M3.1,-2.6 L6.0,-2.6 M3.1,2.6 L6.0,2.6"/>
<path d="M6.0,-3.2 L22.3,-3.2 M6.0,3.2 L22.3,3.2"/>
<ellipse cx="22.3" cy="0" rx="1.5" ry="3.2"/>
<ellipse cx="19.1" cy="0" rx="1.5" ry="3.2"/>
<ellipse cx="15.9" cy="0" rx="1.5" ry="3.2"/>
<ellipse cx="12.7" cy="0" rx="1.5" ry="3.2"/>
</g>
<path d="M554.0,460.0 L570.5,473.0" stroke-width="1" />
<path d="M156.0,232.0 L136.0,274.0" stroke-width="1" />
<path d="M121.7,296 L121.7,311.6 Q122.5,317.4 128.5,317.4 Q136.5,317.4 137.4,311.5 L137.4,303" stroke-width="1" fill="#fff"/>
<path d="M109.1,291.0 C108.1,290.2 104.5,288.2 103.0,286.5 C101.5,284.8 100.7,283.3 100.4,281.0 C100.1,278.7 99.9,274.9 101.0,272.6 C102.1,270.3 104.0,268.3 106.8,267.2 C109.5,266.1 113.9,265.9 117.5,266.0 C121.1,266.1 125.3,266.6 128.2,268.0 C131.1,269.4 133.6,271.7 135.1,274.1 C136.6,276.5 137.0,279.9 137.4,282.5 C137.8,285.1 137.4,288.8 137.4,290.0 L120,290 Z" fill="#fff"/>
<path d="M115.2,275.7 L173.4,307.8 L163.4,322.3 L109.1,291 L109.1,283.3 Q110.5,278 115.2,275.7 Z" stroke-width="1" fill="#fff"/>
<path d="M117.5,266.5 C117.9,267.1 119.5,268.8 120.0,270.0 C120.5,271.2 120.5,272.2 120.5,273.5 C120.5,274.8 119.9,276.8 119.8,277.5" stroke-width="1" />
<path d="M123.7,267.2 C124.2,267.8 125.9,269.3 126.5,270.5 C127.1,271.7 127.3,272.8 127.3,274.5 C127.3,276.2 126.8,279.9 126.7,281.0" stroke-width="1" />
<path d="M114,277.8 L117.5,277 L116.5,280" stroke-width="1" />
<ellipse cx="169.1" cy="315.3" rx="5" ry="8.2" transform="rotate(28 169.1 315.3)" stroke-width="1.8" fill="#fff"/>
<path d="M129.0,293.2 L134.4,304.7" stroke-width="1" />
<path d="M135.9,297.8 L142.8,310.0" stroke-width="1" />
<path d="M147.4,303.2 L150.4,314.0" stroke-width="1" />
<path d="M155.0,309.3 L160.4,319.3" stroke-width="1" />
<path d="M142.8,291.7 C142.0,292.1 139.2,293.2 138.0,294.2 C136.8,295.2 136.4,295.9 135.9,297.8 C135.4,299.7 135.2,304.2 135.1,305.5" stroke-width="1" />
<path d="M155.8,298.6 C154.9,298.8 151.9,299.2 150.5,300.0 C149.1,300.8 148.1,301.3 147.4,303.2 C146.8,305.1 146.7,310.2 146.6,311.6" stroke-width="1" />
<path d="M115.5,330 V334 Q118,339.5 127.5,340.3 Q137,339.5 139,333.5 V330" stroke-width="1" fill="#fff"/>
<ellipse cx="127.3" cy="330" rx="11.8" ry="6" transform="rotate(0 127.3 330)" stroke-width="1" fill="#fff"/>
<ellipse cx="128.3" cy="330.8" rx="8" ry="3.6" transform="rotate(0 128.3 330.8)" stroke-width="1" fill="none"/>
<path d="M115.5,329.5 L118,327 L120.5,329 L120.5,335 M118,327 V332" stroke-width="1" />
<path d="M87.0,324.0 L116.0,331.0" stroke-width="1" />
<path d="M124.5,337 L127,333.8 L130,336.5" stroke-width="1" />
<path d="M129.3,340.0 L129.3,370.0" stroke-width="1" />
<path d="M127.3,367.5 L131.5,367.5 L130.4,376.0 L129.4,382.5 L128.4,376.0 Z" stroke-width="1" fill="#000"/>
<ellipse cx="186" cy="324.5" rx="7.2" ry="10.3" transform="rotate(18 186 324.5)" stroke-width="1" fill="#fff"/>
<ellipse cx="184.8" cy="325" rx="5.6" ry="8.6" transform="rotate(18 184.8 325)" stroke-width="1" fill="none"/>
<path d="M176.3,322.5 L176.3,334.5 L179.2,335.3 L179.2,323.2 Z" stroke-width="1" fill="#fff"/>
<path d="M176.3,322.5 Q177.8,320.6 179.2,323.2" stroke-width="1" />
<path d="M179.2,328.0 L182.0,329.0" stroke-width="1" />
<path d="M216.0,296.0 L193.5,319.5" stroke-width="1" />
<path d="M193.5,328.0 L269.5,371.9 L269.5,528.8 L346.0,572.0" stroke-width="1" />
<ellipse cx="53" cy="512" rx="9.5" ry="12.5" transform="rotate(-28 53 512)" stroke-width="1" fill="#fff"/>
<ellipse cx="52" cy="513" rx="7.6" ry="10.6" transform="rotate(-28 52 513)" stroke-width="1" fill="none"/>
<path d="M39.2,501.5 L39.2,513.5 L43.5,514.5 M39.2,501.5 Q41,498.5 45.5,499 L47.5,503.5 M39.2,503.5 L45.5,504.5 M43.2,503.8 L43.2,509" stroke-width="1" />
<path d="M37.0,471.0 L46.5,499.5" stroke-width="1" />
<path d="M49.0,505.0 L56.0,520.0" stroke-width="1" />
<path d="M46.5,509.0 L52.5,522.0" stroke-width="1" />
<path d="M61.0,507.7 L88.0,492.0" stroke-width="1" />
<path d="M80.5,492.6 L96.0,487.5 L83.2,497.4 L85.0,494.2 Z" stroke-width="1" fill="#000"/>
<path d="M32.5,514.0 C30.3,515.1 23.3,517.8 19.5,520.5 C15.7,523.2 11.8,526.6 9.5,530.0 C7.2,533.4 6.4,537.3 6.0,541.0 C5.6,544.7 6.1,548.3 7.0,552.0 C7.9,555.7 6.8,554.9 11.5,563.0 C16.2,571.1 29.6,592.3 35.0,600.5 C40.4,608.7 40.8,609.2 44.0,612.0 C47.2,614.8 50.8,616.3 54.0,617.5 C57.2,618.7 60.3,619.2 63.5,619.0 C66.7,618.8 56.9,620.5 73.0,616.5 C89.1,612.5 144.8,598.7 160.0,595.0 C175.2,591.3 161.7,594.3 164.0,594.1 C166.3,593.9 170.6,593.3 173.6,593.7 C176.6,594.1 179.0,595.1 182.0,596.4 C185.0,597.7 188.9,600.2 191.7,601.7 C194.5,603.2 197.8,604.8 199.0,605.4 L206,588.3 C204.3,587.5 198.7,584.8 195.9,583.4 C193.1,582.0 192.0,581.2 189.0,580.2 C186.0,579.2 182.2,578.0 177.8,577.4 C173.4,576.8 165.8,576.4 162.5,576.4 C159.2,576.4 173.7,573.4 158.0,577.5 C142.3,581.6 84.5,597.0 68.5,601.0 C52.5,605.0 64.2,601.8 62.0,601.5 C59.8,601.2 57.5,600.4 55.5,599.0 C53.5,597.6 54.7,601.3 50.0,593.0 C45.3,584.7 31.4,557.4 27.5,549.0 C23.6,540.6 25.9,544.7 26.5,542.5 C27.1,540.3 28.8,537.9 31.0,536.0 C33.2,534.1 38.5,531.8 40.0,531.0 Z" fill="#fff" stroke="none"/>
<path d="M32.5,514.0 C30.3,515.1 23.3,517.8 19.5,520.5 C15.7,523.2 11.8,526.6 9.5,530.0 C7.2,533.4 6.4,537.3 6.0,541.0 C5.6,544.7 6.1,548.3 7.0,552.0 C7.9,555.7 6.8,554.9 11.5,563.0 C16.2,571.1 29.6,592.3 35.0,600.5 C40.4,608.7 40.8,609.2 44.0,612.0 C47.2,614.8 50.8,616.3 54.0,617.5 C57.2,618.7 60.3,619.2 63.5,619.0 C66.7,618.8 56.9,620.5 73.0,616.5 C89.1,612.5 144.8,598.7 160.0,595.0 C175.2,591.3 161.7,594.3 164.0,594.1 C166.3,593.9 170.6,593.3 173.6,593.7 C176.6,594.1 179.0,595.1 182.0,596.4 C185.0,597.7 188.9,600.2 191.7,601.7 C194.5,603.2 197.8,604.8 199.0,605.4" stroke-width="1" />
<path d="M40.0,531.0 C38.5,531.8 33.2,534.1 31.0,536.0 C28.8,537.9 27.1,540.3 26.5,542.5 C25.9,544.7 23.6,540.6 27.5,549.0 C31.4,557.4 45.3,584.7 50.0,593.0 C54.7,601.3 53.5,597.6 55.5,599.0 C57.5,600.4 59.8,601.2 62.0,601.5 C64.2,601.8 52.5,605.0 68.5,601.0 C84.5,597.0 142.3,581.6 158.0,577.5 C173.7,573.4 159.2,576.4 162.5,576.4 C165.8,576.4 173.4,576.8 177.8,577.4 C182.2,578.0 186.0,579.2 189.0,580.2 C192.0,581.2 193.1,582.0 195.9,583.4 C198.7,584.8 204.3,587.5 206.0,588.3" stroke-width="1" />
<path d="M32.5,514.0 C33.5,514.8 37.1,517.0 38.5,519.0 C39.9,521.0 40.8,524.0 41.0,526.0 C41.2,528.0 40.2,530.2 40.0,531.0" stroke-width="1" />
<path d="M19.8,520.3 C20.8,521.0 24.2,522.5 26.0,524.5 C27.8,526.5 29.7,529.7 30.5,532.0 C31.3,534.3 30.9,537.4 31.0,538.5" stroke-width="1" />
<path d="M22.0,518.8 C23.1,519.5 26.7,521.0 28.5,523.0 C30.3,525.0 32.2,528.2 33.0,530.5 C33.8,532.8 33.4,535.9 33.5,537.0" stroke-width="1.4" />
<path d="M23.5,530.0 L26.5,543.0" stroke-width="1" />
<path d="M27.0,527.0 L25.0,541.5" stroke-width="1" />
<path d="M11.5,563.0 L28.0,551.5" stroke-width="1" />
<path d="M12.0,564.2 L28.5,552.7" stroke-width="1" />
<path d="M35.0,600.5 C35.8,599.8 38.2,597.2 40.0,596.0 C41.8,594.8 44.3,593.5 46.0,593.0 C47.7,592.5 49.3,593.0 50.0,593.0" stroke-width="1" />
<path d="M63.5,619.0 C64.4,618.1 67.9,615.7 69.0,613.5 C70.1,611.3 70.1,608.1 70.0,606.0 C69.9,603.9 68.8,601.8 68.5,601.0" stroke-width="1" />
<ellipse cx="203.6" cy="597.1" rx="5.2" ry="8.9" transform="rotate(20 203.6 597.1)" stroke-width="1.8" fill="#fff"/>
<path d="M162.5,576.4 C163.2,577.1 165.7,579.1 166.5,580.5 C167.3,581.9 167.5,583.4 167.4,585.0 C167.3,586.6 166.6,588.5 166.0,590.0 C165.4,591.5 164.3,593.4 164.0,594.1" stroke-width="1" />
<path d="M195.9,583.4 C195.0,583.7 191.9,584.3 190.5,585.0 C189.1,585.7 188.3,586.2 187.6,587.8 C186.9,589.4 185.8,592.7 186.2,594.8 C186.6,596.9 189.6,599.5 190.3,600.5" stroke-width="1" />
<path d="M199.5,586.0 C198.7,586.2 195.8,586.8 194.5,587.5 C193.2,588.2 192.4,589.0 191.8,590.5 C191.2,592.0 190.4,594.5 190.8,596.5 C191.2,598.5 193.9,601.8 194.5,602.8" stroke-width="1" />
<path d="M179.2,585.7 L183.4,596.9" stroke-width="1" />
<path d="M185.5,587.8 L188.3,597.5" stroke-width="1" />
<path d="M191.0,591.3 L194.5,601.7" stroke-width="1" />
<path d="M76.5,599.5 C77.3,600.1 80.0,601.1 81.5,603.0 C83.0,604.9 84.6,608.3 85.5,611.0 C86.4,613.7 86.8,617.7 87.0,619.0" stroke-width="1" />
<path d="M80.5,598.5 C81.4,599.1 84.4,600.1 86.0,602.0 C87.6,603.9 89.1,607.2 90.0,610.0 C90.9,612.8 91.2,617.1 91.5,618.5" stroke-width="1" />
<path d="M76.5,599.5 L80.5,598.5" stroke-width="1" />
<path d="M87,619 L88.5,622.5 L92.8,621.5 L91.5,618.5" stroke-width="1.4" />
<path d="M93.0,554.0 L82.5,598.0" stroke-width="1" />
<path d="M3.0,603.0 L32.0,595.0" stroke-width="1" />
<g transform="translate(14.5 641.5) rotate(-19.0)">
<path d="M0,-5.6 L6.0,-5.6 L6.0,5.6 L0,5.6" fill="#fff"/>
<ellipse cx="0" cy="0" rx="3.1" ry="5.6" fill="#fff"/>
<path d="M-1.1,-3.5 A2.0,3.7 0 0 0 -1.1,3.5"/>
<path d="M2.8,-2.4 L6.0,-2.4 M2.8,2.4 L6.0,2.4"/>
<path d="M6.0,-3.0 L31.3,-3.0 M6.0,3.0 L31.3,3.0"/>
<ellipse cx="31.3" cy="0" rx="1.5" ry="3.0"/>
<ellipse cx="28.1" cy="0" rx="1.5" ry="3.0"/>
<ellipse cx="24.9" cy="0" rx="1.5" ry="3.0"/>
<ellipse cx="21.7" cy="0" rx="1.5" ry="3.0"/>
</g>
<ellipse cx="54.5" cy="629.3" rx="3.7" ry="5.4" transform="rotate(-12 54.5 629.3)" stroke-width="1.3" fill="#fff"/>
<ellipse cx="54.5" cy="629.3" rx="1.85" ry="2.7" transform="rotate(-12 54.5 629.3)" stroke-width="1.2" fill="none"/>
<path d="M59.0,627.6 L87.5,619.5" stroke-width="1" />
<path d="M32.5,640.5 L24.0,664.0" stroke-width="1" />
<path d="M55.5,635.0 L59.0,654.5" stroke-width="1" />
<path d="M92.5,618.0 L100.0,615.3 L104.0,627.5 L115.0,625.0" stroke-width="1" />
<path d="M115,622 L123,619 L126,625 L118,628 Z" stroke-width="1" />
<ellipse cx="125" cy="622.3" rx="1.8" ry="3.2" transform="rotate(-20 125 622.3)" stroke-width="1" fill="#000"/>
<ellipse cx="116.5" cy="625" rx="1.6" ry="3.1" transform="rotate(-20 116.5 625)" stroke-width="1" fill="none"/>
<path d="M122.5,626.5 L129.5,634.5" stroke-width="1" />
<ellipse cx="217.5" cy="607.3" rx="8" ry="11" transform="rotate(25 217.5 607.3)" stroke-width="1" fill="#fff"/>
<ellipse cx="216.2" cy="607.8" rx="6.4" ry="9.4" transform="rotate(25 216.2 607.8)" stroke-width="1" fill="none"/>
<path d="M224.2,597 L229.2,598 L229.8,609 L226,611.5 M229.2,598 L226.5,601 M226.5,601 L227,610.5" stroke-width="1" />
<path d="M213.0,615.0 L222.0,599.5" stroke-width="1" />
<path d="M256.0,578.0 L229.5,599.5" stroke-width="1" />
<path d="M187.4,663.3 L198.9,670 L198.9,671.7 L184.4,690.6 L183.9,718.3 L177,722.8 L177,731.1 L158.6,741.1 L146.1,734.4 L146.1,702.8 L152.2,683.3 Z" stroke-width="1" fill="#fff"/>
<path d="M152.2,683.3 L164.4,690.0 L198.9,670.5" stroke-width="1" />
<path d="M164.4,690.0 L158.6,708.3 L158.6,741.1" stroke-width="1" />
<path d="M146.1,702.8 L158.6,708.3" stroke-width="1" />
<path d="M107.0,706.5 L146.1,703.4" stroke-width="1" />
<path d="M166.3,751.3 L176.5,757.1 L176.5,985.5 L173.8,990 L159.4,996.8 L149.6,991.3 L149.6,761.3 Z" stroke-width="1" fill="#fff"/>
<path d="M149.6,761.3 L159.4,766.9 L176.5,757.1" stroke-width="1" />
<path d="M159.4,766.9 L159.4,998.0" stroke-width="1" />
<path d="M101.5,845.0 L149.6,846.5" stroke-width="1" />
<path d="M278.5,700 L285,704.5 L248.3,856.5 L240.3,851.5 Z" stroke-width="1" fill="#fff"/>
<path d="M283.5,682.5 L290.8,687.5 L291.2,697.5 L288,703 L280,700.5 L279,692 Z" stroke-width="1" fill="#fff"/>
<path d="M283.5,682.5 L284.5,692.5 L291.0,697.5" stroke-width="1" />
<path d="M284.5,692.5 L279.5,698.0" stroke-width="1" />
<ellipse cx="286.8" cy="689.8" rx="1.3" ry="1.9" transform="rotate(-20 286.8 689.8)" stroke-width="1" fill="none"/>
<path d="M280.0,700.5 C280.3,701.2 281.0,703.7 282.0,704.5 C283.0,705.3 285.0,705.8 286.0,705.5 C287.0,705.2 287.7,703.4 288.0,703.0" stroke-width="1" />
<path d="M241,851.7 L248.6,855.2 L245.9,869.8 L244.5,871.2 L236.8,864.9 Z" stroke-width="1" fill="#fff"/>
<path d="M242.6,853.0 L238.6,864.6 L245.6,869.6" stroke-width="1" />
<ellipse cx="241.7" cy="863.3" rx="2" ry="2.6" transform="rotate(-20 241.7 863.3)" stroke-width="1.5" fill="none"/>
<path d="M230.0,776.0 L255.5,779.5" stroke-width="1" />
<ellipse cx="258" cy="706.7" rx="4.2" ry="5.5" transform="rotate(-20 258 706.7)" stroke-width="1.3" fill="#fff"/>
<ellipse cx="258" cy="706.7" rx="2.1" ry="2.75" transform="rotate(-20 258 706.7)" stroke-width="1.2" fill="none"/>
<path d="M261.0,704.0 L281.5,693.0" stroke-width="1" />
<path d="M254.5,661.0 L257.0,701.0" stroke-width="1" />
<g transform="translate(228.5 723.5) rotate(-31.9)">
<path d="M0,-6.0 L6.0,-6.0 L6.0,6.0 L0,6.0" fill="#fff"/>
<ellipse cx="0" cy="0" rx="3.3" ry="6.0" fill="#fff"/>
<path d="M-1.2,-3.7 A2.2,4.0 0 0 0 -1.2,3.7"/>
<path d="M3.0,-2.5 L6.0,-2.5 M3.0,2.5 L6.0,2.5"/>
<path d="M6.0,-3.0 L24.9,-3.0 M6.0,3.0 L24.9,3.0"/>
<ellipse cx="24.9" cy="0" rx="1.5" ry="3.0"/>
<ellipse cx="21.7" cy="0" rx="1.5" ry="3.0"/>
<ellipse cx="18.5" cy="0" rx="1.5" ry="3.0"/>
<ellipse cx="15.3" cy="0" rx="1.5" ry="3.0"/>
</g>
<path d="M224.0,681.0 L238.0,715.0" stroke-width="1" />
<path d="M247.5,860.0 L266.5,848.5" stroke-width="1" />
<ellipse cx="270.6" cy="846.6" rx="4.2" ry="5.6" transform="rotate(-20 270.6 846.6)" stroke-width="1.3" fill="#fff"/>
<ellipse cx="270.6" cy="846.6" rx="2.1" ry="2.8" transform="rotate(-20 270.6 846.6)" stroke-width="1.2" fill="none"/>
<path d="M271.5,852.0 L274.3,874.5" stroke-width="1" />
<g transform="translate(300.8 830.6) rotate(153.4)">
<path d="M0,-6.3 L6.0,-6.3 L6.0,6.3 L0,6.3" fill="#fff"/>
<ellipse cx="0" cy="0" rx="3.5" ry="6.3" fill="#fff"/>
<path d="M-1.3,-3.9 A2.3,4.2 0 0 0 -1.3,3.9"/>
<path d="M3.1,-2.6 L6.0,-2.6 M3.1,2.6 L6.0,2.6"/>
<path d="M6.0,-3.0 L23.4,-3.0 M6.0,3.0 L23.4,3.0"/>
<ellipse cx="23.4" cy="0" rx="1.5" ry="3.0"/>
<ellipse cx="20.2" cy="0" rx="1.5" ry="3.0"/>
<ellipse cx="17.0" cy="0" rx="1.5" ry="3.0"/>
<ellipse cx="13.8" cy="0" rx="1.5" ry="3.0"/>
</g>
<path d="M294.5,840.0 L301.5,858.5" stroke-width="1" />
<rect x="265" y="898.5" width="2.2" height="1" fill="#000" stroke="none"/>
<rect x="280" y="898.5" width="2.2" height="1" fill="#000" stroke="none"/>
<path d="M634,415.5 L657,401.6 L669.8,409.6 L675.8,420.6 L675.8,453 L669,456.7 L649.4,446.2 L649.4,422.6 L647.3,422 Z" stroke-width="1" fill="#fff"/>
<path d="M647.3,422.0 L669.8,409.6" stroke-width="1" />
<path d="M649.4,422.6 L660.4,425.0 L660.4,453.2" stroke-width="1" />
<path d="M660.4,453.2 L669.0,449.0 L669.0,456.7" stroke-width="1" />
<path d="M660.4,453.2 L669.0,456.7" stroke-width="1" />
<path d="M688.5,401.0 L675.0,417.0" stroke-width="1" />
<path d="M662.5,473.4 L673.3,467.6 L683.4,473.2 L697,467.8 L708.6,474.3 L708.6,500.7 L687.4,535.6 L687.4,668.3 L679.6,673.1 L679.6,705.7 L674,708.1 L662.5,701.9 Z" stroke-width="1" fill="#fff"/>
<path d="M662.5,473.4 L673.5,478.9 L683.4,473.2" stroke-width="1" />
<path d="M673.5,478.9 L673.5,708.0" stroke-width="1" />
<path d="M683.4,473.2 L683.4,487.9 L708.4,475.2" stroke-width="1" />
<ellipse cx="687.7" cy="500.3" rx="4.6" ry="7.6" transform="rotate(28 687.7 500.3)" stroke-width="1" fill="#fff"/>
<path d="M692.8,496.4 L708.4,488.6" stroke-width="1.5" />
<path d="M687.4,597.7 L717.6,595.5" stroke-width="1" />
<path d="M620.6,504 L628.2,507.8 L591.8,654.2 L584.6,650.4 Z" stroke-width="1" fill="#fff"/>
<path d="M623.3,486.1 L631.6,493.4 L628.2,509 L618.4,500.4 L622.1,487.5 Z" stroke-width="1" fill="#fff"/>
<path d="M622.1,487.5 L630.6,495.2" stroke-width="1" />
<path d="M631.3,494.0 L628.2,509.0" stroke-width="1.8" />
<ellipse cx="625.4" cy="494.8" rx="1.7" ry="2.2" transform="rotate(-20 625.4 494.8)" stroke-width="1" fill="#000"/>
<path d="M584.3,650.2 L591.5,654 L586.8,671.5 L583.6,675.5 L577.6,667.6 Z" stroke-width="1" fill="#fff"/>
<path d="M586.0,652.3 L579.6,667.0 L585.2,673.2" stroke-width="1" />
<ellipse cx="581.9" cy="666.8" rx="2" ry="2.6" transform="rotate(-20 581.9 666.8)" stroke-width="1.5" fill="none"/>
<path d="M549.8,538.0 L624.5,495.4" stroke-width="1" />
<path d="M601.4,617.5 L620.0,619.4" stroke-width="1" />
<path d="M329.3,665 L329.3,869 L370,895 L390,898.5 L550,806 L552.5,772 L551,545 L549,537 L540,528 L520,513.5 L493,507 L479,507 L362,575 L345,568 L345,581 L336.6,600 L336.6,627 L328.5,632 L328.5,645 Z" stroke-width="1" fill="#fff" stroke="none"/>
<path d="M362.3,575.9 L476.0,511.3" stroke-width="1" />
<path d="M372.5,590.4 L490.5,523.4" stroke-width="1" />
<path d="M372.5,592.7 L493.5,524.0" stroke-width="1" />
<path d="M374.2,597.6 L497.0,527.8" stroke-width="1" />
<path d="M381.7,596.7 L510.0,523.8" stroke-width="2.2" />
<path d="M415.0,601.1 L502.0,551.7" stroke-width="1" />
<path d="M416.7,602.8 L503.0,553.8" stroke-width="1" />
<path d="M391.0,634.1 L547.0,545.5" stroke-width="1.6" />
<path d="M510.0,561.5 L510.5,559.2 L546.0,541.2" stroke-width="1" />
<path d="M509.5,559.0 L508.8,561.5" stroke-width="1" />
<path d="M475.4,511.8 L479.1,507 L491.6,506.5 L493.5,508.6 L491.6,514.9 L488.5,516.8 L476,516.8 Z" stroke-width="1.5" fill="#fff"/>
<ellipse cx="483.5" cy="510.3" rx="5" ry="3" transform="rotate(0 483.5 510.3)" stroke-width="1.5" fill="none"/>
<ellipse cx="483.8" cy="510.8" rx="3" ry="1.7" transform="rotate(0 483.8 510.8)" stroke-width="1" fill="none"/>
<path d="M476.0,516.8 L476.0,519.0" stroke-width="1" />
<path d="M488.5,516.8 L488.5,518.5" stroke-width="1" />
<path d="M476.0,519.0 L488.5,518.5" stroke-width="1" />
<path d="M468.8,522.8 L473.5,519.5" stroke-width="2" />
<path d="M493.5,510.5 L513.5,520.7" stroke-width="1" />
<path d="M491.0,515.5 L507.0,522.0" stroke-width="1" />
<path d="M492.5,513.0 L510.0,521.5" stroke-width="1" />
<path d="M514.0,522.3 V525.8 A3.2,2 0 0 0 520.4,525.8 V522.3" stroke-width="1" fill="#fff"/>
<ellipse cx="517.2" cy="522.3" rx="3.2" ry="2" transform="rotate(0 517.2 522.3)" stroke-width="1" fill="#fff"/>
<path d="M500.6,549.8 V554.3 A3.6,2.2 0 0 0 507.8,554.3 V549.8" stroke-width="1" fill="#fff"/>
<ellipse cx="504.2" cy="549.8" rx="3.6" ry="2.2" transform="rotate(0 504.2 549.8)" stroke-width="1" fill="#fff"/>
<path d="M520.5,513.2 Q523,511 526,513 L540,525 Q541,527.5 538.5,528.5 L522,519.5 Q519,516.5 520.5,513.2 Z" stroke-width="1" fill="#fff"/>
<path d="M525.5,514.0 L539.5,526.3" stroke-width="2.4" />
<path d="M521.5,530.5 L527,526.8 L534,531.5 L533.5,535.5 L528,538 L521.5,533.5 Z" stroke-width="1" fill="#fff"/>
<ellipse cx="526.8" cy="530.8" rx="2.8" ry="1.9" transform="rotate(0 526.8 530.8)" stroke-width="1" fill="#fff"/>
<path d="M524.0,530.8 L524.0,532.6" stroke-width="1" />
<path d="M529.6,530.8 L529.6,532.6" stroke-width="1" />
<path d="M531.5,538 L539,534 L542.5,537.5 L535,541.8 Z" stroke-width="1" fill="#fff"/>
<ellipse cx="503.8" cy="536.3" rx="2.3" ry="2.1" transform="rotate(0 503.8 536.3)" stroke-width="1" fill="none"/>
<ellipse cx="506.5" cy="533.8" rx="1.4" ry="1.3" transform="rotate(0 506.5 533.8)" stroke-width="1" fill="none"/>
<path d="M507.9,535.0 L516.0,539.3" stroke-width="1" />
<path d="M514.2,541.5 L518,539.3 L520.4,540.8 L520.4,546.5 L516.6,548.8 L514.2,547.5 Z" stroke-width="1" fill="#fff"/>
<ellipse cx="518.3" cy="544.2" rx="1.3" ry="2" transform="rotate(0 518.3 544.2)" stroke-width="1" fill="none"/>
<path d="M520.4,541.8 L533.5,535.5" stroke-width="1" />
<path d="M514.2,545.0 L507.5,548.8" stroke-width="1" />
<path d="M539.8,527.8 C540.7,528.2 543.6,529.4 545.0,530.5 C546.4,531.6 547.5,532.8 548.2,534.3 C548.9,535.8 549.4,537.6 549.3,539.3 C549.1,541.0 547.6,543.7 547.3,544.6" stroke-width="1" />
<path d="M538.5,528.8 L544.0,532.0 L546.5,536.0" stroke-width="1" />
<path d="M549.8,538.0 L618.6,498.8" stroke-width="1" />
<path d="M544.5,548.0 L544.5,771.0" stroke-width="1" />
<path d="M548.5,546.0 L548.5,774.0" stroke-width="1" />
<path d="M551.5,546.0 L551.5,773.0" stroke-width="1" />
<path d="M545.0,546.0 L552.0,546.0" stroke-width="1" />
<path d="M548.0,546.0 L548.0,561.5" stroke-width="2" />
<path d="M349.2,567.8 L357.5,571.5 Q361,570.3 363,573 L362.4,575 L357,577.5 L352.5,583.2 L346.8,580.8 Z" stroke-width="1" fill="#fff" stroke="none"/>
<path d="M349.2,567.8 Q344.6,569 345,575 Q345.5,580.5 347.2,580.8" stroke-width="2" />
<path d="M349.2,567.8 Q352.8,570 352,575.5 Q351,580.5 347.2,580.8" stroke-width="1" />
<path d="M349.2,567.8 L357.5,571.5" stroke-width="1" />
<path d="M347.2,580.8 L352.5,583.2" stroke-width="1" />
<path d="M356.2,572.2 Q360.5,570.3 363,573.2 Q363.3,574.5 362.4,575.2" stroke-width="1" />
<path d="M356.2,572.2 Q354.3,574.8 355.5,577.3 L358.5,577" stroke-width="1" />
<path d="M352.9,579.4 L372.3,589.6" stroke-width="1" />
<path d="M354.8,583.1 L369.8,591.3" stroke-width="1" />
<path d="M350.4,585.6 L367.9,595.6" stroke-width="1" />
<path d="M351.6,583.0 L349.1,586.9 L346.6,591.9 L342.3,592.5 L336.6,600.0 L336.6,627.5" stroke-width="1" />
<path d="M336.6,600.0 L358.5,610.0" stroke-width="1" />
<path d="M338.5,603.8 L355.4,611.9" stroke-width="1" />
<path d="M358.5,610.0 L367.3,602.3" stroke-width="1" />
<path d="M367.3,601.9 L374,601.9 L377.3,620 L359,610.6 Z" stroke-width="1.6" fill="#fff"/>
<ellipse cx="369.8" cy="608" rx="2.4" ry="2.6" transform="rotate(0 369.8 608)" stroke-width="1" fill="none"/>
<path d="M369.8,608.0 L371.5,607.0" stroke-width="1" />
<path d="M366.0,598.5 L372.0,594.5" stroke-width="1" />
<path d="M367.5,600.5 L373.0,597.0" stroke-width="1" />
<path d="M358.5,610.0 L356.0,613.0 L355.4,617.5 L351.0,619.4 L349.0,622.5 L346.0,638.8 L341.6,640.0 L336.6,636.0" stroke-width="1" />
<path d="M351.0,619.8 L366.6,628.0" stroke-width="1.8" />
<path d="M366.6,628.0 L365.5,636.0" stroke-width="1" />
<path d="M364.5,629.5 L367.0,632.5" stroke-width="1.6" />
<path d="M336.6,629.4 L341.6,632 L341.6,639.5 L336.6,637 Z" stroke-width="1" />
<path d="M335.4,627.5 L328.5,632.0 L328.5,645.0" stroke-width="1" />
<path d="M328.5,632.0 L331.0,633.5" stroke-width="1" />
<path d="M335.4,627.5 L336.6,629.4" stroke-width="1" />
<path d="M334.5,628.5 L334.5,634.0" stroke-width="1.8" />
<path d="M364.3,700.0 C364.3,691.4 363.9,658.0 364.3,648.3 C364.7,638.6 365.5,644.2 366.7,641.7 C367.9,639.2 369.8,635.9 371.7,633.3 C373.6,630.6 376.4,627.5 378.3,625.8 C380.2,624.1 381.8,623.3 383.3,623.3 C384.8,623.3 386.2,624.5 387.5,625.8 C388.8,627.0 390.2,629.5 390.8,630.8 C391.4,632.1 391.2,633.0 391.3,633.5" stroke-width="1" />
<path d="M375.4,700.0 C375.4,692.0 375.0,660.9 375.4,651.7 C375.8,642.5 376.4,647.1 377.5,645.0 C378.6,642.9 380.3,640.9 381.7,639.2 C383.1,637.5 384.1,636.0 385.8,635.0 C387.5,634.0 390.7,633.6 391.7,633.3" stroke-width="1" />
<path d="M383.3,625.2 C383.8,625.5 385.4,626.1 386.3,627.2 C387.2,628.3 388.6,631.2 389.0,632.0" stroke-width="1" />
<path d="M377.3,620.0 C377.9,620.1 379.8,620.1 381.0,620.5 C382.2,620.9 383.9,622.2 384.5,622.5" stroke-width="1" />
<path d="M364.3,656.5 Q370,657.8 375.4,656.5" stroke-width="1" />
<path d="M386.5,586.5 Q388,583.5 391,584 Q393,585.5 392.5,589 L392.5,592.5 L390,594 M386.5,586.5 L386.5,593 L389,594.5 L389,588 Q389.3,586 391,585.5" stroke-width="1" />
<ellipse cx="394" cy="599.5" rx="2.2" ry="2" transform="rotate(0 394 599.5)" stroke-width="1" fill="none"/>
<ellipse cx="397" cy="596.8" rx="1.3" ry="1.2" transform="rotate(0 397 596.8)" stroke-width="1" fill="none"/>
<path d="M382.2,611.0 V613.5 A3.3,2 0 0 0 388.8,613.5 V611.0" stroke-width="1" fill="#fff"/>
<ellipse cx="385.5" cy="611" rx="3.3" ry="2" transform="rotate(0 385.5 611)" stroke-width="1" fill="#fff"/>
<path d="M381.5,613.5 L390.0,618.0" stroke-width="1" />
<path d="M389.5,617.5 L398.5,613.5 L402,616.5 L402,619.5 L393,623.8 Z" stroke-width="1" fill="#fff"/>
<path d="M381.0,598.8 C382.8,599.8 388.7,602.8 392.0,604.5 C395.3,606.2 398.7,608.2 401.0,608.8 C403.3,609.4 404.2,608.8 406.0,608.3 C407.8,607.8 410.6,606.0 411.5,605.5" stroke-width="1" />
<path d="M411.5,600.5 Q413.5,597.5 416.5,598.5 L417.5,604.5 L414,608 L411.5,606.5 Z" stroke-width="1" fill="#fff"/>
<ellipse cx="414.8" cy="602.5" rx="1.3" ry="2" transform="rotate(0 414.8 602.5)" stroke-width="1" fill="none"/>
<path d="M372.5,560.0 L372.5,600.0" stroke-width="1" />
<path d="M364.1,648.0 L364.1,836.0" stroke-width="1" />
<path d="M375.4,652.0 L375.4,846.0" stroke-width="1" />
<path d="M377.8,724.0 L377.8,846.0" stroke-width="1" />
<path d="M381.9,637.0 L381.9,851.0" stroke-width="1.3" />
<path d="M384.6,637.0 L384.6,852.0" stroke-width="1.7" />
<path d="M386.8,639.0 L386.8,860.0" stroke-width="1" />
<path d="M390.8,669.0 L390.8,861.0" stroke-width="2.6" />
<path d="M386.8,667.0 L389.8,670.0" stroke-width="1" />
<path d="M388.5,664.0 L390.5,662.5 L391.0,668.0" stroke-width="1" />
<path d="M391.8,634.6 L391.8,669.0" stroke-width="1" />
<path d="M393.4,634.6 L393.4,650.0" stroke-width="1" />
<path d="M394.4,650.0 L394.4,858.0" stroke-width="1.2" />
<path d="M398.6,634.6 L398.6,855.0" stroke-width="1" />
<path d="M393.4,634.6 L398.6,634.6" stroke-width="1" />
<path d="M393.4,650.0 L398.6,650.0" stroke-width="1" />
<path d="M386.8,639.0 L391.5,634.0" stroke-width="1" />
<path d="M387.3,838.5 L389.6,832.5 L389.6,838.5 Z" stroke-width="1.2" />
<path d="M329.6,664.6 L329.6,870.0" stroke-width="2" />
<path d="M300.3,630.8 L363.8,665.4 L363.8,684 L300.3,647.2 Z" stroke-width="1" fill="#fff"/>
<path d="M300.3,630.8 L363.8,665.4" stroke-width="1.8" />
<ellipse cx="305.2" cy="638.1" rx="1.3" ry="1.8" transform="rotate(0 305.2 638.1)" stroke-width="1" fill="#000"/>
<ellipse cx="337.3" cy="660.5" rx="2" ry="2.2" transform="rotate(0 337.3 660.5)" stroke-width="1" fill="#000"/>
<ellipse cx="362.3" cy="671" rx="1.8" ry="2.4" transform="rotate(0 362.3 671)" stroke-width="1" fill="#000"/>
<path d="M329.3,631.0 L329.3,647.0" stroke-width="1" />
<path d="M227.5,611.3 L329.3,669.7" stroke-width="1" />
<path d="M331,670.7 L452.8,740.4" stroke-dasharray="6 3.5 8 4.5"/>
<path d="M290.8,687.3 L336.5,661.5" stroke-width="1" />
<path d="M466.0,741.0 C465.2,740.7 462.5,738.8 461.0,739.0 C459.5,739.2 457.8,740.7 457.0,742.0 C456.2,743.3 455.8,745.2 456.0,747.0 C456.2,748.8 456.8,751.2 458.0,752.5 C459.2,753.8 461.0,754.2 463.0,755.0 C465.0,755.8 468.8,757.1 470.0,757.5" stroke-width="1" />
<path d="M462.0,739.8 L470.0,743.5" stroke-width="1" />
<path d="M328.3,717.0 L328.3,720.0" stroke-width="1.2" />
<path d="M328.3,796.0 L328.3,799.0" stroke-width="1.2" />
<path d="M328.3,868.0 L328.3,871.0" stroke-width="1.2" />
<path d="M376.6,730.1 L378.8,728.7 L381.0,730.1 L381.0,733.3000000000001 L378.8,734.7 L376.6,733.3000000000001 Z" stroke-width="1.4" fill="#fff"/>
<ellipse cx="378.8" cy="731.7" rx="0.9" ry="1.1" transform="rotate(0 378.8 731.7)" stroke-width="1" fill="#000"/>
<path d="M376.6,742.9 L378.8,741.5 L381.0,742.9 L381.0,746.1 L378.8,747.5 L376.6,746.1 Z" stroke-width="1.4" fill="#fff"/>
<ellipse cx="378.8" cy="744.5" rx="0.9" ry="1.1" transform="rotate(0 378.8 744.5)" stroke-width="1" fill="#000"/>
<path d="M376.6,802.5 L378.8,801.1 L381.0,802.5 L381.0,805.7 L378.8,807.1 L376.6,805.7 Z" stroke-width="1.4" fill="#fff"/>
<ellipse cx="378.8" cy="804.1" rx="0.9" ry="1.1" transform="rotate(0 378.8 804.1)" stroke-width="1" fill="#000"/>
<path d="M376.6,823.0 L378.8,821.6 L381.0,823.0 L381.0,826.2 L378.8,827.6 L376.6,826.2 Z" stroke-width="1.4" fill="#fff"/>
<ellipse cx="378.8" cy="824.6" rx="0.9" ry="1.1" transform="rotate(0 378.8 824.6)" stroke-width="1" fill="#000"/>
<path d="M363.3,737.5 L363.3,743.5" stroke-width="2" />
<path d="M398.8,854.2 L545.0,771.2" stroke-width="1" />
<path d="M398.8,858.1 L547.5,773.6" stroke-width="1" />
<path d="M399.4,862.3 L549.0,777.3" stroke-width="1.8" />
<path d="M440.0,842.8 L548.0,781.5" stroke-width="1" />
<path d="M397.5,879.6 L540.3,798.5" stroke-width="1" />
<path d="M400.0,880.8 L540.3,801.1" stroke-width="1" />
<path d="M380,892.5 L390,898.3 L405,890 M413.5,885 L550.3,806 L542.5,800.2" stroke-width="1" />
<path d="M413.5,885.0 L550.3,806.0" stroke-width="1.7" />
<path d="M543.0,787.0 L546.0,785.0 L546.0,797.5 L541.5,800.0" stroke-width="1" />
<path d="M552.3,772.0 L552.3,781.0 L546.0,785.0" stroke-width="1" />
<path d="M545.0,772.0 L552.5,772.0" stroke-width="1" />
<path d="M354.5,838 L358,834.5 L364.5,838.5 L372.5,846 L372.5,892 L366,895.5 L354.5,889 Z" stroke-width="1.5" fill="#fff"/>
<ellipse cx="363.5" cy="850.5" rx="4.6" ry="6.6" transform="rotate(-12 363.5 850.5)" stroke-width="1.4" fill="none"/>
<ellipse cx="363.5" cy="875.5" rx="4.6" ry="6.6" transform="rotate(-12 363.5 875.5)" stroke-width="1.4" fill="none"/>
<ellipse cx="362.8" cy="851" rx="3" ry="4.6" transform="rotate(-12 362.8 851)" stroke-width="1" fill="none"/>
<ellipse cx="362.8" cy="876" rx="3" ry="4.6" transform="rotate(-12 362.8 876)" stroke-width="1" fill="none"/>
<path d="M354.8,862.5 L372.0,866.0" stroke-width="1.3" />
<path d="M372.5,846 L383.3,851.7 L383.3,887 L373.5,892.5 L372.5,892 Z" stroke-width="1" fill="#fff"/>
<path d="M379.4,851.0 L379.4,889.0" stroke-width="1.6" />
<path d="M383.3,851.7 L383.3,887.0" stroke-width="1.8" />
<path d="M375.5,848.0 L375.5,891.0" stroke-width="1" />
<path d="M372.5,866.0 L383.3,870.0" stroke-width="1" />
<path d="M325.0,869.0 L370.0,895.3" stroke-width="1" />
<path d="M325.0,871.5 L353.0,888.0" stroke-width="1" />
<path d="M325.0,869.0 L325.0,871.5" stroke-width="1" />
<path d="M404.5,882.5 L409,880 L412,881.8 L412,887.5 L407.5,890 L404.5,888.3 Z" stroke-width="1" fill="#fff"/>
<path d="M404.5,882.5 L407.5,884.2 L412.0,881.8" stroke-width="1" />
<path d="M407.5,884.2 L407.5,890.0" stroke-width="1" />
<path d="M471.5,842.5 L476,840 L479,841.8 L479,847.5 L474.5,850 L471.5,848.3 Z" stroke-width="1" fill="#fff"/>
<path d="M471.5,842.5 L474.5,844.2 L479.0,841.8" stroke-width="1" />
<path d="M474.5,844.2 L474.5,850.0" stroke-width="1" />
<ellipse cx="394.5" cy="876.5" rx="2.2" ry="2.8" transform="rotate(0 394.5 876.5)" stroke-width="1" fill="none"/>
<ellipse cx="386" cy="884" rx="2.5" ry="3" transform="rotate(0 386 884)" stroke-width="1" fill="none"/>
<path d="M380.5,880 L387.5,876 L391,878 L391,890 L384,894 L380.5,892 Z" stroke-width="1" fill="#fff"/>
<path d="M388,858 L396,853.5 L399,855.5 L399,870 L391,874.5 L388,872.5 Z" stroke-width="1.3" fill="#fff"/>
<ellipse cx="393.5" cy="868" rx="1.6" ry="2" transform="rotate(0 393.5 868)" stroke-width="1" fill="none"/>
<ellipse cx="391" cy="862" rx="1.4" ry="1.8" transform="rotate(0 391 862)" stroke-width="1" fill="none"/>
<ellipse cx="527.5" cy="801" rx="2.2" ry="2.6" transform="rotate(0 527.5 801)" stroke-width="1" fill="none"/>
<path d="M518.0,797.5 L537.0,787.0" stroke-width="1.6" />
<path d="M503,805.5 Q506,810 510,806.5" stroke-width="1" />
<path d="M473.0,817.0 L474.5,821.5" stroke-width="1.4" />
<path d="M369.7,896.0 L369.7,933.0" stroke-width="1" />
<ellipse cx="370" cy="936.3" rx="5.6" ry="3.3" transform="rotate(0 370 936.3)" stroke-width="1.3" fill="#fff"/>
<ellipse cx="370" cy="936.3" rx="2.8" ry="1.65" transform="rotate(0 370 936.3)" stroke-width="1.2" fill="none"/>
<path d="M375.8,935.8 L408.3,940.0" stroke-width="1" />
<g transform="translate(369.9 0)">
<path d="M-3.2,947 V963.5 M3.2,947 V963.5 M-3.2,947 Q0,944 3.2,947" stroke-width="1" />
<path d="M-3.2,949.5 Q0,951.5 3.2,949.5" stroke-width="1" />
<path d="M-3.2,953 Q0,955 3.2,953" stroke-width="1" />
<path d="M-3.2,956.5 Q0,958.5 3.2,956.5" stroke-width="1" />
<path d="M-5.8,963.3 L5.8,963.3 L5.8,971 L3,974 L-3,974 L-5.8,971 Z" stroke-width="1" fill="#fff"/>
<path d="M-2.8,963.3 V969.5 L-5.8,971 M2.8,963.3 V969.5 L5.8,971 M-2.8,969.5 H2.8" stroke-width="1" />
</g>
<path d="M373.0,958.3 L409.7,965.8" stroke-width="1" />
<rect x="418.8" y="949.8" width="2.2" height="1" fill="#000" stroke="none"/>
<rect x="432.5" y="949.8" width="2.2" height="1" fill="#000" stroke="none"/>
<rect x="418.8" y="977.5" width="2.2" height="1" fill="#000" stroke="none"/>
<rect x="434" y="977.5" width="2.2" height="1" fill="#000" stroke="none"/>
<path d="M44.80,390.95 L54.20,390.95M47.15,387.80 L47.15,395.15M51.85,387.80 L51.85,395.68 L50.91,398.30 L48.56,400.40M58.24,394.10 L65.76,394.10M71.21,389.38 L77.79,389.38M69.80,394.10 L79.20,394.10M74.03,389.38 L74.03,398.30 L74.97,399.88 L78.73,399.88M83.24,389.38 L90.29,389.38 L87.94,395.15 L82.77,400.19M87.47,395.15 L91.51,400.19M98.56,387.80 L97.15,391.48 L95.27,394.10M98.09,389.69 L103.26,389.69 L101.85,395.15 L99.50,398.30 L96.68,400.40M97.62,393.05 L102.13,396.20M109.18,393.05 L110.12,395.68M112.00,392.53 L112.94,395.15M116.04,392.53 L115.29,396.73 L113.88,398.82 L111.53,400.40M123.09,387.80 L123.09,400.40M123.09,392.53 L128.07,395.68M135.68,390.43 L134.65,395.68 L132.58,400.19M138.32,390.43 L139.35,395.68 L141.42,400.19M149.50,387.80 L149.50,390.74M145.74,394.10 L145.74,390.74 L153.26,390.74 L152.79,395.15 L151.38,398.09 L148.56,400.40M158.24,389.90 L160.59,391.58M157.58,393.68 L159.93,395.36M158.05,400.40 L162.47,398.30 L164.82,395.68 L166.04,392.53M164.16,387.80 L164.91,389.48M165.95,387.80 L166.70,389.48M170.74,389.90 L173.56,392.21M170.55,400.40 L174.97,398.30 L177.32,395.68 L178.73,392.00M186.06,387.80 L184.93,391.48 L183.05,394.10M185.59,389.90 L190.10,389.90 L188.88,395.15 L187.00,398.30 L184.37,400.40M190.10,387.28 L190.76,388.85M191.51,386.96 L192.17,388.54M195.08,396.41 L198.56,391.48 L204.20,398.30" stroke-width="1.0" stroke-linejoin="round" stroke-linecap="round"/>
<path d="M36.56,404.00 L43.84,404.00M40.20,404.00 L40.20,415.00M47.15,415.00 L49.95,415.00 L51.35,413.90 L51.35,409.50 L49.95,408.40 L47.15,408.40 L45.75,409.50 L45.75,413.90 L47.15,415.00M61.61,404.00 L68.89,404.00M65.25,404.00 L65.25,415.00M70.80,404.00 L70.80,415.00M70.80,409.50 L72.20,408.40 L75.00,408.40 L76.40,409.50 L76.40,415.00M79.15,411.70 L84.75,411.70 L84.75,409.50 L83.35,408.40 L80.55,408.40 L79.15,409.50 L79.15,413.90 L80.55,415.00 L83.35,415.00 L84.75,413.90M87.50,408.40 L87.50,415.00M87.50,409.50 L88.90,408.40 L93.10,408.40M95.85,408.40 L95.85,415.00M95.85,409.50 L96.69,408.40 L97.95,408.40 L98.65,409.50 L98.65,415.00M98.65,409.50 L99.49,408.40 L100.75,408.40 L101.45,409.50 L101.45,415.00M105.60,415.00 L108.40,415.00 L109.80,413.90 L109.80,409.50 L108.40,408.40 L105.60,408.40 L104.20,409.50 L104.20,413.90 L105.60,415.00M118.15,409.50 L116.75,408.40 L113.95,408.40 L112.55,409.50 L112.55,410.60 L113.95,411.70 L116.75,411.70 L118.15,412.80 L118.15,413.90 L116.75,415.00 L113.95,415.00 L112.55,413.90M123.70,405.10 L123.70,415.00M121.32,408.40 L126.08,408.40M129.25,409.50 L130.65,408.40 L133.45,408.40 L134.85,409.50 L134.85,415.00M134.85,411.15 L130.65,411.15 L129.25,412.25 L129.25,413.90 L130.65,415.00 L133.45,415.00 L134.85,413.90M140.40,405.10 L140.40,415.00M138.02,408.40 L142.78,408.40M154.30,404.00 L154.30,415.00M159.90,404.00 L159.90,415.00M154.30,409.50 L159.90,409.50M164.05,415.00 L166.85,415.00 L168.25,413.90 L168.25,409.50 L166.85,408.40 L164.05,408.40 L162.65,409.50 L162.65,413.90 L164.05,415.00M171.00,408.40 L171.00,413.90 L172.40,415.00 L175.20,415.00 L176.60,413.90M176.60,408.40 L176.60,415.00M184.95,409.50 L183.55,408.40 L180.75,408.40 L179.35,409.50 L179.35,410.60 L180.75,411.70 L183.55,411.70 L184.95,412.80 L184.95,413.90 L183.55,415.00 L180.75,415.00 L179.35,413.90M190.50,408.40 L190.50,415.00M196.05,408.40 L196.05,415.00M196.05,409.50 L197.45,408.40 L200.25,408.40 L201.65,409.50 L201.65,415.00M210.00,408.40 L210.00,416.32 L208.60,417.42 L205.80,417.42M210.00,413.90 L208.60,415.00 L205.80,415.00 L204.40,413.90 L204.40,409.50 L205.80,408.40 L208.60,408.40 L210.00,409.50" stroke-width="1.0" stroke-linejoin="round" stroke-linecap="square"/>
<circle cx="139.69" cy="455.01" r="1.03" stroke-width="1.0"/>
<circle cx="164.59" cy="455.01" r="1.03" stroke-width="1.0"/>
<path d="M85.00,454.70 L85.00,457.64M81.24,461.00 L81.24,457.64 L88.76,457.64 L88.29,462.05 L86.88,464.99 L84.06,467.30M94.63,461.21 L101.21,461.21M98.86,458.38 L98.86,466.77 L97.92,467.30M98.86,461.21 L96.98,464.15 L94.63,466.25M106.14,461.00 L113.66,461.00M121.41,454.70 L120.00,458.38 L118.12,461.00M120.94,456.59 L126.11,456.59 L124.70,462.05 L122.35,465.20 L119.53,467.30M120.47,459.95 L124.98,463.10M130.57,458.38 L139.03,458.38M134.80,454.70 L134.80,467.30M132.92,461.00 L131.98,463.62 L130.48,466.04M136.68,461.00 L137.62,463.62 L139.12,466.04M143.49,456.80 L146.31,459.11M143.30,467.30 L147.72,465.20 L150.07,462.57 L151.48,458.90M155.47,457.01 L162.80,457.01 L162.05,462.05 L160.45,465.20 L157.63,467.30M167.73,463.31 L171.21,458.38 L176.85,465.20" stroke-width="1.0" stroke-linejoin="round" stroke-linecap="round"/>
<path d="M73.96,472.30 L81.24,472.30M77.60,472.30 L77.60,483.30M84.55,483.30 L87.35,483.30 L88.75,482.20 L88.75,477.80 L87.35,476.70 L84.55,476.70 L83.15,477.80 L83.15,482.20 L84.55,483.30M99.85,472.30 L100.97,483.30 L102.65,476.15 L104.33,483.30 L105.45,472.30M108.20,477.80 L109.60,476.70 L112.40,476.70 L113.80,477.80 L113.80,483.30M113.80,479.45 L109.60,479.45 L108.20,480.55 L108.20,482.20 L109.60,483.30 L112.40,483.30 L113.80,482.20M119.35,473.40 L119.35,483.30M116.97,476.70 L121.73,476.70M124.90,480.00 L130.50,480.00 L130.50,477.80 L129.10,476.70 L126.30,476.70 L124.90,477.80 L124.90,482.20 L126.30,483.30 L129.10,483.30 L130.50,482.20M133.25,476.70 L133.25,483.30M133.25,477.80 L134.65,476.70 L138.85,476.70M149.95,483.30 L149.95,472.30 L154.15,472.30 L155.55,473.40 L155.55,476.70 L154.15,477.80 L149.95,477.80M158.30,476.70 L158.30,482.20 L159.70,483.30 L162.50,483.30 L163.90,482.20M163.90,476.70 L163.90,483.30M166.65,476.70 L166.65,483.30M166.65,477.80 L167.49,476.70 L168.75,476.70 L169.45,477.80 L169.45,483.30M169.45,477.80 L170.29,476.70 L171.55,476.70 L172.25,477.80 L172.25,483.30M175.00,476.70 L175.00,485.50M175.00,477.80 L176.40,476.70 L179.20,476.70 L180.60,477.80 L180.60,482.20 L179.20,483.30 L176.40,483.30 L175.00,482.20" stroke-width="1.0" stroke-linejoin="round" stroke-linecap="square"/>
<path d="M444.08,676.82 L449.72,676.82M442.67,680.49 L451.13,680.49 L450.19,683.96 L448.31,686.51 L445.02,688.24M455.94,677.84 L458.29,679.47M455.28,681.51 L457.63,683.14M455.75,688.04 L460.17,686.00 L462.52,683.45 L463.74,680.39M461.86,675.80 L462.61,677.43M463.65,675.80 L464.40,677.43M469.21,677.84 L475.79,677.84M472.50,677.84 L472.50,686.51M467.80,686.51 L477.20,686.51M481.54,681.92 L489.06,681.92M497.16,675.80 L495.75,679.37 L493.87,681.92M496.69,677.64 L501.86,677.64 L500.45,682.94 L498.10,686.00 L495.28,688.04M496.22,680.90 L500.73,683.96" stroke-width="1.0" stroke-linejoin="round" stroke-linecap="round"/>
<path d="M438.90,704.40 L438.90,693.80 L443.10,693.80 L444.50,694.86 L444.50,698.04 L443.10,699.10 L438.90,699.10M441.70,699.10 L444.50,704.40M447.25,699.10 L448.65,698.04 L451.45,698.04 L452.85,699.10 L452.85,704.40M452.85,700.69 L448.65,700.69 L447.25,701.75 L447.25,703.34 L448.65,704.40 L451.45,704.40 L452.85,703.34M461.20,693.80 L461.20,704.40M461.20,699.10 L459.80,698.04 L457.00,698.04 L455.60,699.10 L455.60,703.34 L457.00,704.40 L459.80,704.40 L461.20,703.34M466.75,698.04 L466.75,704.40M472.30,699.10 L473.70,698.04 L476.50,698.04 L477.90,699.10 L477.90,704.40M477.90,700.69 L473.70,700.69 L472.30,701.75 L472.30,703.34 L473.70,704.40 L476.50,704.40 L477.90,703.34M483.45,694.86 L483.45,704.40M481.07,698.04 L485.83,698.04M490.40,704.40 L493.20,704.40 L494.60,703.34 L494.60,699.10 L493.20,698.04 L490.40,698.04 L489.00,699.10 L489.00,703.34 L490.40,704.40M497.35,698.04 L497.35,704.40M497.35,699.10 L498.75,698.04 L502.95,698.04" stroke-width="1.0" stroke-linejoin="round" stroke-linecap="square"/>
<path d="M652.30,988.00 L652.30,981.00 L655.54,981.00 L656.62,981.70 L656.62,983.80 L655.54,984.50 L652.30,984.50M662.95,981.00 L663.81,988.00 L665.11,983.45 L666.41,988.00 L667.27,981.00M674.46,982.40 L675.76,981.00 L675.76,988.00M688.57,982.05 L687.49,981.00 L685.33,981.00 L684.25,982.05 L684.25,986.95 L685.33,988.00 L687.49,988.00 L688.57,986.95M699.22,981.00 L694.90,981.00 L694.90,984.15 L698.14,984.15 L699.22,984.85 L699.22,986.95 L698.14,988.00 L695.98,988.00 L694.90,986.95M706.63,981.00 L708.79,981.00 L709.87,981.70 L709.87,983.45 L708.79,984.15 L706.63,984.15 L705.55,983.45 L705.55,981.70 L706.63,981.00M706.63,984.15 L705.55,984.85 L705.55,987.30 L706.63,988.00 L708.79,988.00 L709.87,987.30 L709.87,984.85 L708.79,984.15M717.28,988.00 L719.44,988.00 L720.52,986.95 L720.52,982.05 L719.44,981.00 L717.28,981.00 L716.20,982.05 L716.20,986.95 L717.28,988.00" stroke-width="1.0" stroke-linejoin="round" stroke-linecap="square"/>
</svg></body></html>
